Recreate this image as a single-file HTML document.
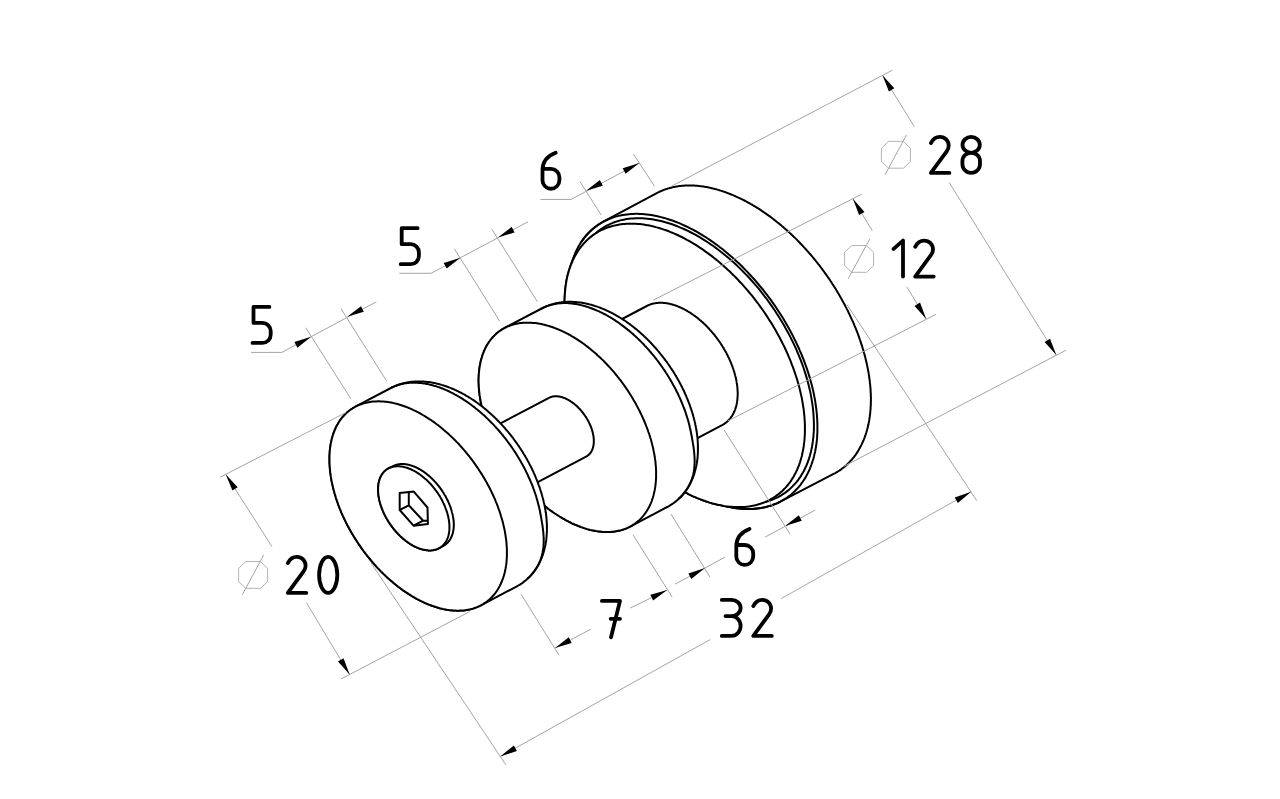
<!DOCTYPE html>
<html><head><meta charset="utf-8"><style>
html,body{margin:0;padding:0;background:#fff;width:1280px;height:799px;overflow:hidden}
svg{display:block}
</style></head><body>
<svg width="1280" height="799" viewBox="0 0 1280 799">
<rect width="1280" height="799" fill="#fff"/>
<path d="M603.8,221.4 L656.8,193.1 657.6,192.7 658.4,192.3 659.2,191.9 660.0,191.5 660.8,191.2 661.6,190.8 662.4,190.5 663.2,190.1 664.0,189.8 664.9,189.5 665.7,189.2 666.6,188.9 667.4,188.7 668.3,188.4 669.1,188.2 670.0,187.9 670.9,187.7 671.8,187.5 672.7,187.3 673.6,187.1 674.5,186.9 675.4,186.7 676.3,186.6 677.2,186.4 678.1,186.3 679.0,186.1 680.0,186.0 680.9,185.9 681.8,185.8 682.8,185.7 683.7,185.7 684.7,185.6 685.6,185.6 686.6,185.5 687.6,185.5 688.6,185.5 689.5,185.5 690.5,185.5 691.5,185.5 692.5,185.5 693.5,185.6 694.5,185.6 695.5,185.7 696.5,185.8 697.5,185.8 698.5,185.9 699.5,186.1 700.5,186.2 701.6,186.3 702.6,186.4 703.6,186.6 704.7,186.8 705.7,186.9 706.7,187.1 707.8,187.3 708.8,187.5 709.9,187.8 710.9,188.0 712.0,188.2 713.0,188.5 714.1,188.7 715.1,189.0 716.2,189.3 717.3,189.6 718.3,189.9 719.4,190.2 720.5,190.6 721.6,190.9 722.6,191.3 723.7,191.6 724.8,192.0 725.9,192.4 726.9,192.8 728.0,193.2 729.1,193.6 730.2,194.0 731.3,194.5 732.4,194.9 733.5,195.4 734.6,195.8 735.6,196.3 736.7,196.8 737.8,197.3 738.9,197.8 740.0,198.3 741.1,198.9 742.2,199.4 743.3,200.0 744.4,200.5 745.5,201.1 746.6,201.7 747.7,202.3 748.8,202.9 749.9,203.5 750.9,204.1 752.0,204.7 753.1,205.4 754.2,206.0 755.3,206.7 756.4,207.4 757.5,208.0 758.6,208.7 759.7,209.4 760.8,210.1 761.8,210.9 762.9,211.6 764.0,212.3 765.1,213.1 766.2,213.8 767.3,214.6 768.3,215.4 769.4,216.1 770.5,216.9 771.6,217.7 772.6,218.5 773.7,219.4 774.8,220.2 775.8,221.0 776.9,221.9 777.9,222.7 779.0,223.6 780.0,224.4 781.1,225.3 782.1,226.2 783.2,227.1 784.2,228.0 785.3,228.9 786.3,229.8 787.3,230.8 788.4,231.7 789.4,232.6 790.4,233.6 791.4,234.5 792.5,235.5 793.5,236.5 794.5,237.4 795.5,238.4 796.5,239.4 797.5,240.4 798.5,241.4 799.5,242.5 800.4,243.5 801.4,244.5 802.4,245.5 803.4,246.6 804.3,247.6 805.3,248.7 806.3,249.7 807.2,250.8 808.2,251.9 809.1,253.0 810.1,254.0 811.0,255.1 811.9,256.2 812.9,257.3 813.8,258.5 814.7,259.6 815.6,260.7 816.5,261.8 817.4,262.9 818.3,264.1 819.2,265.2 820.1,266.4 820.9,267.5 821.8,268.7 822.7,269.9 823.5,271.0 824.4,272.2 825.2,273.4 826.1,274.6 826.9,275.7 827.7,276.9 828.6,278.1 829.4,279.3 830.2,280.5 831.0,281.7 831.8,282.9 832.6,284.2 833.4,285.4 834.1,286.6 834.9,287.8 835.7,289.1 836.4,290.3 837.2,291.5 837.9,292.8 838.7,294.0 839.4,295.3 840.1,296.5 840.8,297.8 841.5,299.0 842.2,300.3 842.9,301.5 843.6,302.8 844.3,304.0 845.0,305.3 845.6,306.6 846.3,307.9 846.9,309.1 847.6,310.4 848.2,311.7 848.8,313.0 849.4,314.2 850.0,315.5 850.6,316.8 851.2,318.1 851.8,319.4 852.4,320.6 853.0,321.9 853.5,323.2 854.1,324.5 854.6,325.8 855.2,327.1 855.7,328.4 856.2,329.7 856.7,331.0 857.2,332.2 857.7,333.5 858.2,334.8 858.7,336.1 859.1,337.4 859.6,338.7 860.0,340.0 860.5,341.3 860.9,342.6 861.3,343.9 861.7,345.1 862.1,346.4 862.5,347.7 862.9,349.0 863.3,350.3 863.7,351.6 864.0,352.8 864.4,354.1 864.7,355.4 865.1,356.7 865.4,357.9 865.7,359.2 866.0,360.5 866.3,361.8 866.6,363.0 866.9,364.3 867.1,365.5 867.4,366.8 867.7,368.1 867.9,369.3 868.1,370.6 868.4,371.8 868.6,373.1 868.8,374.3 869.0,375.5 869.2,376.8 869.3,378.0 869.5,379.2 869.7,380.5 869.8,381.7 869.9,382.9 870.1,384.1 870.2,385.3 870.3,386.5 870.4,387.7 870.5,388.9 870.6,390.1 870.6,391.3 870.7,392.5 870.8,393.7 870.8,394.9 870.8,396.0 870.9,397.2 870.9,398.4 870.9,399.5 870.9,400.7 870.9,401.8 870.8,403.0 870.8,404.1 870.8,405.2 870.7,406.3 870.6,407.5 870.6,408.6 870.5,409.7 870.4,410.8 870.3,411.9 870.2,413.0 870.1,414.1 869.9,415.1 869.8,416.2 869.7,417.3 869.5,418.3 869.3,419.4 869.2,420.4 869.0,421.5 868.8,422.5 868.6,423.5 868.4,424.6 868.1,425.6 867.9,426.6 867.7,427.6 867.4,428.6 867.1,429.5 866.9,430.5 866.6,431.5 866.3,432.5 866.0,433.4 865.7,434.4 865.4,435.3 865.1,436.2 864.7,437.2 864.4,438.1 864.0,439.0 863.7,439.9 863.3,440.8 862.9,441.6 862.5,442.5 862.1,443.4 861.7,444.2 861.3,445.1 860.9,445.9 860.5,446.8 860.0,447.6 859.6,448.4 859.1,449.2 858.7,450.0 858.2,450.8 857.7,451.6 857.2,452.4 856.7,453.1 856.2,453.9 855.7,454.6 855.2,455.3 854.6,456.1 854.1,456.8 853.5,457.5 853.0,458.2 852.4,458.9 851.8,459.6 851.2,460.2 850.6,460.9 850.0,461.5 849.4,462.2 848.8,462.8 848.2,463.4 847.6,464.0 846.9,464.6 846.3,465.2 845.6,465.8 845.0,466.4 844.3,466.9 843.6,467.5 842.9,468.0 842.2,468.5 841.5,469.1 840.8,469.6 840.1,470.1 839.4,470.6 838.7,471.0 837.9,471.5 837.2,472.0 836.4,472.4 835.7,472.8 834.9,473.3 834.1,473.7 780.8,501.4 780.0,501.8 779.2,502.2 778.5,502.6 777.7,503.0 776.9,503.3 776.0,503.7 775.2,504.0 774.4,504.3 773.6,504.6 772.8,505.0 771.9,505.2 771.1,505.5 770.2,505.8 769.4,506.1 768.5,506.3 767.6,506.5 766.8,506.8 765.9,507.0 765.0,507.2 764.1,507.4 763.2,507.6 762.3,507.7 761.4,507.9 760.5,508.1 759.6,508.2 758.6,508.3 757.7,508.4 756.8,508.5 755.8,508.6 754.9,508.7 753.9,508.8 753.0,508.9 752.0,508.9 751.1,508.9 750.1,509.0 749.1,509.0 748.2,509.0 747.2,509.0 746.2,509.0 745.2,508.9 744.2,508.9 743.2,508.8 742.2,508.8 741.2,508.7 740.2,508.6 739.2,508.5 738.2,508.4 737.2,508.3 736.1,508.2 735.1,508.0 734.1,507.9 733.1,507.7 732.0,507.5 731.0,507.3 729.9,507.1 728.9,506.9 719.9,505.1 718.9,504.9 717.9,504.7 716.9,504.5 715.9,504.2 714.9,504.0 713.8,503.7 712.8,503.4 711.8,503.2 710.8,502.9 709.8,502.6 708.7,502.2 707.7,501.9 706.7,501.6 705.6,501.2 704.6,500.9 703.6,500.5 702.5,500.1 701.5,499.7 700.5,499.3 699.4,498.9 698.4,498.5 697.3,498.1 696.3,497.6 695.3,497.2 694.2,496.7 693.2,496.3 692.1,495.8 691.1,495.3 690.0,494.8 689.0,494.3 687.9,493.8 686.9,493.2 685.8,492.7 684.8,492.1 683.7,491.6 682.7,491.0 681.6,490.4 680.6,489.9 679.5,489.3 678.5,488.7 677.4,488.0 676.4,487.4 675.4,486.8 674.3,486.1 673.3,485.5 672.2,484.8 671.2,484.2 670.1,483.5 669.1,482.8 668.1,482.1 667.0,481.4 666.0,480.7 664.9,479.9 663.9,479.2 662.9,478.5 661.9,477.7 660.8,477.0 659.8,476.2 658.8,475.4 657.8,474.6 656.7,473.8 655.7,473.0 654.7,472.2 653.7,471.4 652.7,470.6 651.7,469.8 650.7,468.9 649.7,468.1 648.6,467.2 647.7,466.4 646.7,465.5 645.7,464.6 644.7,463.7 643.7,462.8 642.7,461.9 641.7,461.0 640.7,460.1 639.8,459.2 638.8,458.2 637.8,457.3 636.9,456.4 635.9,455.4 635.0,454.4 634.0,453.5 633.1,452.5 632.1,451.5 631.2,450.5 630.2,449.6 629.3,448.6 628.4,447.6 627.4,446.5 626.5,445.5 625.6,444.5 624.7,443.5 623.8,442.4 622.9,441.4 622.0,440.4 621.1,439.3 620.2,438.2 619.3,437.2 618.5,436.1 617.6,435.0 616.7,434.0 615.9,432.9 615.0,431.8 614.2,430.7 613.3,429.6 612.5,428.5 611.6,427.4 610.8,426.3 610.0,425.1 609.2,424.0 608.4,422.9 607.5,421.8 606.7,420.6 606.0,419.5 605.2,418.3 604.4,417.2 603.6,416.0 602.8,414.9 602.1,413.7 601.3,412.5 600.6,411.4 599.8,410.2 599.1,409.0 598.3,407.8 597.6,406.7 596.9,405.5 596.2,404.3 595.5,403.1 594.8,401.9 594.1,400.7 593.4,399.5 592.7,398.3 592.1,397.1 591.4,395.9 590.7,394.7 590.1,393.5 589.5,392.3 588.8,391.1 588.2,389.8 587.6,388.6 587.0,387.4 586.4,386.2 585.8,385.0 585.2,383.7 584.6,382.5 584.0,381.3 583.4,380.0 582.9,378.8 582.3,377.6 581.8,376.3 581.3,375.1 580.7,373.9 580.2,372.6 579.7,371.4 579.2,370.2 578.7,368.9 578.2,367.7 577.7,366.5 577.2,365.2 576.8,364.0 576.3,362.8 575.9,361.5 575.4,360.3 575.0,359.0 574.6,357.8 574.2,356.6 573.8,355.3 573.4,354.1 573.0,352.9 572.6,351.6 572.2,350.4 571.9,349.2 571.5,348.0 571.2,346.7 570.8,345.5 570.5,344.3 570.2,343.1 569.9,341.8 569.6,340.6 569.3,339.4 569.0,338.2 568.7,337.0 568.5,335.8 568.2,334.6 567.9,333.4 567.7,332.1 567.5,330.9 567.2,329.7 567.0,328.6 566.8,327.4 566.6,326.2 566.4,325.0 566.3,323.8 566.1,322.6 565.9,321.4 565.8,320.3 565.7,319.1 565.5,317.9 565.4,316.8 565.3,315.6 565.2,314.4 565.1,313.3 565.0,312.1 564.9,311.0 564.8,309.9 564.8,308.7 564.7,307.6 564.7,306.5 564.7,305.3 564.6,304.2 564.6,303.1 564.6,302.0 564.6,300.9 564.6,299.8 564.7,298.7 564.7,297.6 564.7,296.5 564.8,295.5 564.8,294.4 564.9,293.3 565.0,292.3 565.1,291.2 565.2,290.2 565.3,289.1 565.4,288.1 565.5,287.0 565.7,286.0 565.8,285.0 565.9,284.0 566.1,283.0 566.3,282.0 566.4,281.0 566.6,280.0 566.8,279.0 567.0,278.0 567.2,277.0 567.5,276.1 567.7,275.1 567.9,274.2 568.2,273.2 568.5,272.3 568.7,271.4 569.0,270.4 569.3,269.5 569.6,268.6 569.9,267.7 572.7,259.7 573.0,258.8 573.3,257.8 573.7,256.9 574.0,256.0 574.4,255.1 574.7,254.2 575.1,253.4 575.5,252.5 575.9,251.6 576.3,250.8 576.7,249.9 577.1,249.1 577.6,248.2 578.0,247.4 578.5,246.6 578.9,245.8 579.4,245.0 579.9,244.2 580.3,243.4 580.8,242.7 581.3,241.9 581.8,241.2 582.4,240.4 582.9,239.7 583.4,239.0 584.0,238.3 584.5,237.5 585.1,236.9 585.6,236.2 586.2,235.5 586.8,234.8 587.4,234.2 588.0,233.5 588.6,232.9 589.2,232.3 589.8,231.6 590.5,231.0 591.1,230.4 591.7,229.8 592.4,229.3 593.1,228.7 593.7,228.1 594.4,227.6 595.1,227.0 595.8,226.5 596.5,226.0 597.2,225.5 597.9,225.0 598.6,224.5 599.3,224.0 600.1,223.6 600.8,223.1 601.6,222.7 602.3,222.2 603.1,221.8 Z" fill="#fff" stroke="#000" stroke-width="2.0" stroke-linejoin="round"/>
<path d="M727.6,506.7 L729.9,507.1 732.3,507.6 734.6,507.9 736.9,508.3 739.3,508.5 741.5,508.7 743.8,508.9 746.1,509.0 748.3,509.0 750.5,509.0 752.7,508.9 754.8,508.7 757.0,508.5 759.1,508.3 761.2,507.9 763.2,507.6 765.2,507.1 767.2,506.6 769.2,506.1 771.2,505.5 773.1,504.8 774.9,504.1 776.8,503.4 778.6,502.5 780.4,501.6 782.1,500.7 783.8,499.7 785.5,498.7 787.1,497.6 788.7,496.4 790.3,495.2 791.8,493.9 793.3,492.6 794.7,491.3 796.1,489.8 797.5,488.4 798.8,486.9 800.1,485.3 801.3,483.7 802.5,482.0 803.7,480.3 804.8,478.6 805.9,476.8 806.9,474.9 807.9,473.0 808.8,471.1 809.7,469.1 810.5,467.1 811.3,465.0 812.0,462.9 812.7,460.8 813.4,458.6 814.0,456.4 814.5,454.1 815.1,451.9 815.5,449.5 815.9,447.2 816.3,444.8 816.6,442.3 816.9,439.9 817.1,437.4 817.2,434.9 817.4,432.3 817.4,429.7 817.4,427.1 817.4,424.5 817.3,421.9 817.2,419.2 817.0,416.5 816.8,413.8 816.5,411.0 816.2,408.2 815.8,405.5 815.4,402.7 815.0,399.9 814.4,397.0 813.9,394.2 813.3,391.3 812.6,388.5 811.9,385.6 811.1,382.7 810.3,379.8 809.5,376.9 808.6,374.0 807.7,371.1 806.7,368.1 805.6,365.2 804.6,362.3 803.5,359.4 802.3,356.5 801.1,353.5 799.8,350.6 798.6,347.7 797.2,344.8 795.9,341.9 794.4,339.0 793.0,336.1 791.5,333.2 790.0,330.4 788.4,327.5 786.8,324.7 785.2,321.9 783.5,319.1 781.8,316.3 780.0,313.5 778.2,310.7 776.4,308.0 774.6,305.3 772.7,302.6 770.8,299.9 768.8,297.3 766.8,294.7 764.8,292.1 762.8,289.5 760.7,287.0 758.6,284.5 756.5,282.0 754.4,279.5 752.2,277.1 750.0,274.7 747.8,272.4 745.6,270.1 743.3,267.8 741.1,265.5 738.8,263.3 736.5,261.2 734.1,259.1 731.8,257.0 729.4,254.9 727.1,252.9 724.7,251.0 722.3,249.0 719.9,247.2 717.4,245.3 715.0,243.6 712.6,241.8 710.1,240.1 707.7,238.5 705.2,236.9 702.7,235.4 700.3,233.9 697.8,232.4 695.3,231.0 692.8,229.7 690.3,228.4 687.9,227.1 685.4,226.0 682.9,224.8 680.4,223.7 678.0,222.7 675.5,221.7 673.1,220.8 670.6,220.0 668.2,219.2 665.8,218.4 663.3,217.7 660.9,217.1 658.5,216.5 656.2,216.0 653.8,215.5 651.5,215.1 649.1,214.7 646.8,214.4 644.5,214.2 642.2,214.0 640.0,213.9 637.7,213.8 635.5,213.8 633.3,213.9 631.1,214.0 629.0,214.2 626.9,214.4 624.8,214.7 622.7,215.0 620.6,215.4 618.6,215.9 616.6,216.4 614.7,216.9 612.7,217.6 610.9,218.3 609.0,219.0 607.2,219.8 605.4,220.6 603.6,221.5 601.9,222.5 600.2,223.5 598.5,224.6 596.9,225.7 595.3,226.9 593.8,228.1 592.2,229.4 590.8,230.7 589.4,232.1 588.0,233.5 586.6,235.0 585.3,236.6 584.0,238.1 582.8,239.8 581.7,241.4" fill="none" stroke="#000" stroke-width="2.0" stroke-linecap="round"/>
<path d="M726.8,501.9 L729.3,502.4 731.7,502.9 734.2,503.3 736.6,503.6 739.0,503.8 741.4,504.0 743.7,504.1 746.1,504.2 748.4,504.2 750.6,504.1 752.9,504.0 755.1,503.8 757.3,503.5 759.5,503.2 761.6,502.8 763.7,502.3 765.8,501.8 767.9,501.2 769.9,500.5 771.9,499.8 773.8,499.0 775.7,498.2 777.6,497.3 779.4,496.3 781.2,495.3 782.9,494.2 784.6,493.1 786.3,491.9 787.9,490.6 789.5,489.3 791.0,487.9 792.5,486.4 793.9,484.9 795.3,483.4 796.7,481.8 798.0,480.1 799.2,478.4 800.5,476.6 801.6,474.8 802.7,472.9 803.8,471.0 804.8,469.0 805.7,467.0 806.7,464.9 807.5,462.8 808.3,460.6 809.1,458.4 809.8,456.1 810.4,453.8 811.0,451.5 811.5,449.1 812.0,446.7 812.4,444.2 812.8,441.7 813.1,439.2 813.4,436.6 813.6,434.0 813.8,431.4 813.9,428.7 813.9,426.0 813.9,423.3 813.8,420.5 813.7,417.7 813.5,414.9 813.3,412.1 813.0,409.2 812.7,406.3 812.3,403.4 811.8,400.5 811.3,397.6 810.8,394.6 810.2,391.6 809.5,388.7 808.8,385.7 808.0,382.7 807.2,379.6 806.3,376.6 805.4,373.6 804.4,370.5 803.4,367.5 802.3,364.4 801.2,361.4 800.0,358.4 798.8,355.3 797.5,352.3 796.2,349.2 794.8,346.2 793.4,343.2 791.9,340.1 790.4,337.1 788.9,334.1 787.3,331.2 785.6,328.2 784.0,325.2 782.2,322.3 780.5,319.4 778.7,316.5 776.8,313.6 775.0,310.7 773.0,307.9 771.1,305.1 769.1,302.3 767.1,299.5 765.0,296.8 762.9,294.1 760.8,291.4 758.7,288.7 756.5,286.1 754.3,283.6 752.0,281.0 749.8,278.5 747.5,276.0 745.1,273.6 742.8,271.2 740.4,268.9 738.1,266.6 735.7,264.3 733.2,262.1 730.8,259.9 728.3,257.8 725.8,255.7 723.4,253.7 720.8,251.7 718.3,249.8 715.8,247.9 713.3,246.0 710.7,244.3 708.1,242.5 705.6,240.9 703.0,239.3 700.4,237.7 697.9,236.2 695.3,234.7 692.7,233.3 690.1,232.0 687.5,230.7 684.9,229.5 682.4,228.4 679.8,227.3 677.2,226.2 674.7,225.3 672.1,224.3 669.6,223.5 667.0,222.7 664.5,222.0 662.0,221.3 659.5,220.7 657.0,220.2 654.6,219.7 652.1,219.3 649.7,219.0 647.3,218.7 644.9,218.5 642.6,218.3 640.2,218.3 637.9,218.2 635.6,218.3 633.3,218.4 631.1,218.6 628.9,218.8 626.7,219.1 624.6,219.5 622.4,219.9 620.3,220.4 618.3,221.0 616.3,221.6 614.3,222.3 612.3,223.1 610.4,223.9 608.5,224.8 606.7,225.7 604.9,226.7 603.1,227.8 601.4,228.9 599.7,230.1 598.1,231.4 596.5,232.7 594.9,234.0 593.4,235.4 592.0,236.9 590.6,238.5 589.2,240.0 587.9,241.7 586.6,243.4 585.4,245.1 584.2,246.9 583.1,248.8 582.0,250.7 581.0,252.7 580.0,254.7 579.1,256.7 578.2,258.8 577.4,261.0 576.6,263.2 575.9,265.4 575.2,267.7 574.6,270.0 574.0,272.4 573.5,274.8" fill="none" stroke="#000" stroke-width="2.0" stroke-linecap="round"/>
<path d="M769.7,499.8 L771.2,499.0 772.7,498.2 774.1,497.3 775.5,496.4 776.8,495.4 778.2,494.4 779.5,493.4 780.7,492.3 782.0,491.2 783.2,490.0 784.4,488.8 785.6,487.6 786.7,486.3 787.8,485.0 788.8,483.7 789.9,482.3 790.9,480.9 791.8,479.4 792.8,477.9 793.7,476.4 794.5,474.8 795.4,473.3 796.2,471.6 797.0,470.0 797.7,468.3 798.4,466.6 799.1,464.8 799.7,463.1 800.3,461.2 800.8,459.4 801.4,457.5 801.9,455.7 802.3,453.7 802.7,451.8 803.1,449.8 803.5,447.8 803.8,445.8 804.0,443.7 804.3,441.7 804.5,439.6 804.6,437.5 804.8,435.3 804.9,433.2 804.9,431.0 804.9,428.8 804.9,426.5 804.9,424.3 804.8,422.0 804.6,419.8 804.5,417.5 804.3,415.2 804.0,412.8 803.8,410.5 803.5,408.2 803.1,405.8 802.7,403.4 802.3,401.0 801.9,398.6 801.4,396.2 800.8,393.8 800.3,391.4 799.7,388.9 799.1,386.5 798.4,384.0 797.7,381.6 797.0,379.1 796.2,376.7 795.4,374.2 794.5,371.7 793.7,369.3 792.8,366.8 791.8,364.3 790.9,361.8 789.9,359.4 788.8,356.9 787.8,354.4 786.7,352.0 785.6,349.5 784.4,347.0 783.2,344.6 782.0,342.2 780.7,339.7 779.5,337.3 778.2,334.9 776.8,332.5 775.5,330.1 774.1,327.7 772.7,325.3 771.2,322.9 769.7,320.6 768.2,318.2 766.7,315.9 765.2,313.6 763.6,311.3 762.0,309.0 760.4,306.8 758.8,304.5 757.1,302.3 755.4,300.1 753.7,297.9 752.0,295.7 750.2,293.6 748.5,291.5 746.7,289.4 744.9,287.3 743.0,285.2 741.2,283.2 739.3,281.2 737.5,279.2 735.6,277.3 733.7,275.4 731.7,273.5 729.8,271.6 727.8,269.8 725.9,268.0 723.9,266.2 721.9,264.4 719.9,262.7 717.9,261.0 715.9,259.4 713.8,257.7 711.8,256.1 709.8,254.6 707.7,253.1 705.6,251.6 703.6,250.1 701.5,248.7 699.4,247.3 697.3,245.9 695.3,244.6 693.2,243.4 691.1,242.1 689.0,240.9 686.9,239.8 684.8,238.6 682.7,237.5 680.6,236.5 678.5,235.5 676.4,234.5 674.3,233.6 672.2,232.7 670.1,231.9 668.1,231.0 666.0,230.3 663.9,229.6 661.9,228.9 659.8,228.2 657.8,227.6 655.7,227.1 653.7,226.5 651.7,226.1 649.7,225.6 647.7,225.2 645.7,224.9 643.7,224.6 641.7,224.3 639.8,224.1 637.8,223.9 635.9,223.8 634.0,223.7 632.1,223.7 630.2,223.7 628.4,223.7 626.5,223.8 624.7,223.9 622.9,224.1 621.1,224.3 619.3,224.6 617.6,224.9 615.9,225.2 614.2,225.6 612.5,226.0 610.8,226.5 609.2,227.0 607.5,227.5 606.0,228.1 604.4,228.8 602.8,229.5 601.3,230.2 599.8,230.9 598.3,231.7 596.9,232.6 595.5,233.5 594.1,234.4 592.7,235.4 591.4,236.4 590.1,237.4 588.8,238.5 587.6,239.6 586.4,240.8 585.2,242.0 584.0,243.2 582.9,244.5 581.8,245.8 580.7,247.1 579.7,248.5 578.7,249.9 577.7,251.4 576.8,252.9 575.9,254.4 575.0,255.9 574.2,257.5 573.4,259.1 572.6,260.8 571.9,262.5 571.2,264.2 570.5,265.9 569.9,267.7 569.3,269.5 568.7,271.4 568.2,273.2 567.7,275.1 567.2,277.0 566.8,279.0 566.4,281.0 566.1,283.0 565.8,285.0 565.5,287.0 565.3,289.1 565.1,291.2 564.9,293.3 564.8,295.5 564.7,297.6 564.6,299.8 564.6,302.0 564.6,304.2 564.7,306.5 564.8,308.7 564.9,311.0 565.1,313.3 565.3,315.6 565.5,317.9 565.8,320.3 566.1,322.6 566.4,325.0 566.8,327.4 567.2,329.7 567.7,332.1 568.2,334.6 568.7,337.0 569.3,339.4 569.9,341.8 570.5,344.3 571.2,346.7 571.9,349.2 572.6,351.6 573.4,354.1 574.2,356.6 575.0,359.0 575.9,361.5 576.8,364.0 577.7,366.5 578.7,368.9 579.7,371.4 580.7,373.9 581.8,376.3 582.9,378.8 584.0,381.3 585.2,383.7 586.4,386.2 587.6,388.6 588.8,391.1 590.1,393.5 591.4,395.9 592.7,398.3 594.1,400.7 595.5,403.1 596.9,405.5 598.3,407.8 599.8,410.2 601.3,412.5 602.8,414.9 604.4,417.2 606.0,419.5 607.5,421.8 609.2,424.0 610.8,426.3 612.5,428.5 614.2,430.7 615.9,432.9 617.6,435.0 619.3,437.2 621.1,439.3 622.9,441.4 624.7,443.5 626.5,445.5 628.4,447.6 630.2,449.6 632.1,451.5 634.0,453.5 635.9,455.4 637.8,457.3 639.8,459.2 641.7,461.0 643.7,462.8 645.7,464.6 647.7,466.4 649.7,468.1 651.7,469.8 653.7,471.4 655.7,473.0 657.8,474.6 659.8,476.2 661.9,477.7 663.9,479.2 666.0,480.7 668.1,482.1 670.1,483.5 672.2,484.8 674.3,486.1 676.4,487.4 678.5,488.7 680.6,489.9 682.7,491.0 684.8,492.1 686.9,493.2 689.0,494.3 691.1,495.3 693.2,496.3 695.3,497.2 697.3,498.1 699.4,498.9 701.5,499.7 703.6,500.5 705.6,501.2 707.7,501.9 709.8,502.6 711.8,503.2 713.8,503.7 715.9,504.2 717.9,504.7 719.9,505.1 721.9,505.5 723.9,505.9 725.9,506.2 727.8,506.4 729.8,506.7 731.7,506.8 733.7,507.0 735.6,507.1 737.5,507.1 739.3,507.1 741.2,507.1 743.0,507.0 744.9,506.9 746.7,506.7 748.5,506.5 750.2,506.2 752.0,505.9 753.7,505.6 755.4,505.2 757.1,504.8 758.8,504.3 760.4,503.8 762.0,503.2 763.6,502.6 765.2,502.0 766.7,501.3 768.2,500.6 Z" fill="#fff" stroke="#000" stroke-width="2.0"/>
<path d="M575.8,343.4 L646.8,306.0 647.1,305.8 647.4,305.7 647.8,305.5 648.1,305.3 648.5,305.2 648.8,305.0 649.1,304.9 649.5,304.8 649.8,304.6 650.2,304.5 650.6,304.4 650.9,304.2 651.3,304.1 651.6,304.0 652.0,303.9 652.4,303.8 652.8,303.7 653.1,303.6 653.5,303.5 653.9,303.5 654.3,303.4 654.7,303.3 655.0,303.2 655.4,303.2 655.8,303.1 656.2,303.1 656.6,303.0 657.0,303.0 657.4,302.9 657.8,302.9 658.2,302.9 658.6,302.8 659.0,302.8 659.4,302.8 659.8,302.8 660.3,302.8 660.7,302.8 661.1,302.8 661.5,302.8 661.9,302.8 662.3,302.8 662.8,302.8 663.2,302.9 663.6,302.9 664.0,302.9 664.5,303.0 664.9,303.0 665.3,303.1 665.8,303.1 666.2,303.2 666.7,303.3 667.1,303.3 667.5,303.4 668.0,303.5 668.4,303.6 668.9,303.6 669.3,303.7 669.7,303.8 670.2,303.9 670.6,304.0 671.1,304.2 671.5,304.3 672.0,304.4 672.4,304.5 672.9,304.7 673.4,304.8 673.8,304.9 674.3,305.1 674.7,305.2 675.2,305.4 675.6,305.5 676.1,305.7 676.6,305.9 677.0,306.0 677.5,306.2 677.9,306.4 678.4,306.6 678.9,306.8 679.3,307.0 679.8,307.2 680.2,307.4 680.7,307.6 681.2,307.8 681.6,308.0 682.1,308.2 682.6,308.5 683.0,308.7 683.5,308.9 684.0,309.2 684.4,309.4 684.9,309.7 685.4,309.9 685.8,310.2 686.3,310.4 686.7,310.7 687.2,311.0 687.7,311.2 688.1,311.5 688.6,311.8 689.1,312.1 689.5,312.4 690.0,312.6 690.5,312.9 690.9,313.2 691.4,313.6 691.8,313.9 692.3,314.2 692.8,314.5 693.2,314.8 693.7,315.1 694.1,315.5 694.6,315.8 695.0,316.1 695.5,316.5 696.0,316.8 696.4,317.2 696.9,317.5 697.3,317.9 697.8,318.2 698.2,318.6 698.7,319.0 699.1,319.3 699.5,319.7 700.0,320.1 700.4,320.4 700.9,320.8 701.3,321.2 701.8,321.6 702.2,322.0 702.6,322.4 703.1,322.8 703.5,323.2 703.9,323.6 704.4,324.0 704.8,324.4 705.2,324.8 705.7,325.3 706.1,325.7 706.5,326.1 706.9,326.5 707.3,327.0 707.8,327.4 708.2,327.8 708.6,328.3 709.0,328.7 709.4,329.2 709.8,329.6 710.2,330.1 710.6,330.5 711.0,331.0 711.4,331.4 711.8,331.9 712.2,332.4 712.6,332.8 713.0,333.3 713.4,333.8 713.8,334.2 714.2,334.7 714.6,335.2 715.0,335.7 715.3,336.2 715.7,336.6 716.1,337.1 716.5,337.6 716.8,338.1 717.2,338.6 717.6,339.1 717.9,339.6 718.3,340.1 718.7,340.6 719.0,341.1 719.4,341.6 719.7,342.1 720.1,342.6 720.4,343.1 720.7,343.6 721.1,344.2 721.4,344.7 721.7,345.2 722.1,345.7 722.4,346.2 722.7,346.8 723.0,347.3 723.4,347.8 723.7,348.3 724.0,348.9 724.3,349.4 724.6,349.9 724.9,350.5 725.2,351.0 725.5,351.5 725.8,352.1 726.1,352.6 726.4,353.1 726.7,353.7 726.9,354.2 727.2,354.7 727.5,355.3 727.8,355.8 728.0,356.4 728.3,356.9 728.6,357.4 728.8,358.0 729.1,358.5 729.3,359.1 729.6,359.6 729.8,360.2 730.1,360.7 730.3,361.3 730.5,361.8 730.8,362.4 731.0,362.9 731.2,363.5 731.4,364.0 731.7,364.5 731.9,365.1 732.1,365.6 732.3,366.2 732.5,366.7 732.7,367.3 732.9,367.8 733.1,368.4 733.3,368.9 733.4,369.5 733.6,370.0 733.8,370.6 734.0,371.1 734.1,371.7 734.3,372.2 734.5,372.8 734.6,373.3 734.8,373.8 734.9,374.4 735.1,374.9 735.2,375.5 735.3,376.0 735.5,376.6 735.6,377.1 735.7,377.6 735.9,378.2 736.0,378.7 736.1,379.2 736.2,379.8 736.3,380.3 736.4,380.8 736.5,381.4 736.6,381.9 736.7,382.4 736.8,383.0 736.9,383.5 736.9,384.0 737.0,384.5 737.1,385.0 737.2,385.6 737.2,386.1 737.3,386.6 737.3,387.1 737.4,387.6 737.4,388.1 737.5,388.7 737.5,389.2 737.5,389.7 737.6,390.2 737.6,390.7 737.6,391.2 737.6,391.7 737.7,392.2 737.7,392.7 737.7,393.2 737.7,393.7 737.7,394.1 737.7,394.6 737.7,395.1 737.6,395.6 737.6,396.1 737.6,396.6 737.6,397.0 737.5,397.5 737.5,398.0 737.5,398.4 737.4,398.9 737.4,399.4 737.3,399.8 737.3,400.3 737.2,400.8 737.2,401.2 737.1,401.7 737.0,402.1 736.9,402.5 736.9,403.0 736.8,403.4 736.7,403.9 736.6,404.3 736.5,404.7 736.4,405.2 736.3,405.6 736.2,406.0 736.1,406.4 736.0,406.8 735.9,407.2 735.7,407.6 735.6,408.1 735.5,408.5 735.3,408.9 735.2,409.3 735.1,409.6 734.9,410.0 734.8,410.4 734.6,410.8 734.5,411.2 734.3,411.6 734.1,411.9 734.0,412.3 733.8,412.7 733.6,413.0 733.4,413.4 733.3,413.7 733.1,414.1 732.9,414.4 732.7,414.8 732.5,415.1 732.3,415.4 732.1,415.8 731.9,416.1 731.7,416.4 731.4,416.7 731.2,417.1 731.0,417.4 730.8,417.7 730.5,418.0 730.3,418.3 730.1,418.6 729.8,418.9 729.6,419.2 729.3,419.4 729.1,419.7 728.8,420.0 728.6,420.3 728.3,420.5 728.0,420.8 727.8,421.1 727.5,421.3 727.2,421.6 726.9,421.8 726.7,422.1 726.4,422.3 726.1,422.5 725.8,422.7 725.5,423.0 725.2,423.2 724.9,423.4 724.6,423.6 724.3,423.8 724.0,424.0 723.7,424.2 723.4,424.4 723.0,424.6 722.7,424.8 722.4,425.0 722.1,425.2 651.1,462.6 650.8,462.8 650.4,462.9 650.1,463.1 649.7,463.3 649.4,463.4 649.1,463.6 648.7,463.7 648.4,463.8 648.0,464.0 647.7,464.1 647.3,464.2 646.9,464.3 646.6,464.5 646.2,464.6 645.8,464.7 645.5,464.8 645.1,464.9 644.7,465.0 644.4,465.1 644.0,465.1 643.6,465.2 643.2,465.3 642.8,465.4 642.4,465.4 642.0,465.5 641.6,465.5 641.3,465.6 640.9,465.6 640.5,465.7 640.1,465.7 639.7,465.7 639.2,465.8 638.8,465.8 638.4,465.8 638.0,465.8 637.6,465.8 637.2,465.8 636.8,465.8 636.4,465.8 635.9,465.8 635.5,465.8 635.1,465.8 634.7,465.7 634.2,465.7 633.8,465.7 633.4,465.6 632.9,465.6 632.5,465.5 632.1,465.5 631.6,465.4 631.2,465.3 630.8,465.3 630.3,465.2 629.9,465.1 629.4,465.0 629.0,464.9 628.6,464.9 628.1,464.8 627.7,464.7 627.2,464.5 626.8,464.4 626.3,464.3 625.9,464.2 625.4,464.1 625.0,463.9 624.5,463.8 624.0,463.7 623.6,463.5 623.1,463.4 622.7,463.2 622.2,463.1 621.8,462.9 621.3,462.7 620.8,462.6 620.4,462.4 619.9,462.2 619.5,462.0 619.0,461.8 618.5,461.6 618.1,461.4 617.6,461.2 617.1,461.0 616.7,460.8 616.2,460.6 615.8,460.4 615.3,460.1 614.8,459.9 614.4,459.7 613.9,459.4 613.4,459.2 613.0,458.9 612.5,458.7 612.0,458.4 611.6,458.2 611.1,457.9 610.6,457.6 610.2,457.4 609.7,457.1 609.3,456.8 608.8,456.5 608.3,456.2 607.9,455.9 607.4,455.7 606.9,455.4 606.5,455.0 606.0,454.7 605.6,454.4 605.1,454.1 604.6,453.8 604.2,453.5 603.7,453.1 603.3,452.8 602.8,452.5 602.4,452.1 601.9,451.8 601.5,451.4 601.0,451.1 600.6,450.7 600.1,450.4 599.7,450.0 599.2,449.6 598.8,449.3 598.3,448.9 597.9,448.5 597.4,448.1 597.0,447.8 596.5,447.4 596.1,447.0 595.7,446.6 595.2,446.2 594.8,445.8 594.4,445.4 593.9,445.0 593.5,444.6 593.1,444.2 592.6,443.8 592.2,443.3 591.8,442.9 591.4,442.5 590.9,442.1 590.5,441.6 590.1,441.2 589.7,440.8 589.3,440.3 588.8,439.9 588.4,439.4 588.0,439.0 587.6,438.5 587.2,438.1 586.8,437.6 586.4,437.2 586.0,436.7 585.6,436.2 585.2,435.8 584.8,435.3 584.4,434.8 584.0,434.4 583.7,433.9 583.3,433.4 582.9,432.9 582.5,432.4 582.1,432.0 581.8,431.5 581.4,431.0 581.0,430.5 580.7,430.0 580.3,429.5 579.9,429.0 579.6,428.5 579.2,428.0 578.9,427.5 578.5,427.0 578.2,426.5 577.8,426.0 577.5,425.5 577.1,424.9 576.8,424.4 576.4,423.9 576.1,423.4 575.8,422.9 575.5,422.4 575.1,421.8 574.8,421.3 574.5,420.8 574.2,420.3 573.9,419.7 573.6,419.2 573.2,418.7 572.9,418.1 572.6,417.6 572.3,417.1 572.1,416.5 571.8,416.0 571.5,415.5 571.2,414.9 570.9,414.4 570.6,413.9 570.4,413.3 570.1,412.8 569.8,412.2 569.6,411.7 569.3,411.1 569.0,410.6 568.8,410.1 568.5,409.5 568.3,409.0 568.0,408.4 567.8,407.9 567.6,407.3 567.3,406.8 567.1,406.2 566.9,405.7 566.6,405.1 566.4,404.6 566.2,404.0 566.0,403.5 565.8,403.0 565.6,402.4 565.4,401.9 565.2,401.3 565.0,400.8 564.8,400.2 564.6,399.7 564.4,399.1 564.2,398.6 564.1,398.0 563.9,397.5 563.7,396.9 563.6,396.4 563.4,395.8 563.2,395.3 563.1,394.8 562.9,394.2 562.8,393.7 562.7,393.1 562.5,392.6 562.4,392.0 562.2,391.5 562.1,391.0 562.0,390.4 561.9,389.9 561.8,389.4 561.7,388.8 561.6,388.3 561.4,387.8 561.4,387.2 561.3,386.7 561.2,386.2 561.1,385.6 561.0,385.1 560.9,384.6 560.8,384.1 560.8,383.5 560.7,383.0 560.6,382.5 560.6,382.0 560.5,381.5 560.5,381.0 560.4,380.4 560.4,379.9 560.4,379.4 560.3,378.9 560.3,378.4 560.3,377.9 560.2,377.4 560.2,376.9 560.2,376.4 560.2,375.9 560.2,375.4 560.2,374.9 560.2,374.4 560.2,374.0 560.2,373.5 560.2,373.0 560.2,372.5 560.3,372.0 560.3,371.6 560.3,371.1 560.4,370.6 560.4,370.1 560.4,369.7 560.5,369.2 560.5,368.8 560.6,368.3 560.6,367.8 560.7,367.4 560.8,366.9 560.8,366.5 560.9,366.1 561.0,365.6 561.1,365.2 561.2,364.7 561.3,364.3 561.4,363.9 561.4,363.4 561.6,363.0 561.7,362.6 561.8,362.2 561.9,361.8 562.0,361.4 562.1,360.9 562.2,360.5 562.4,360.1 562.5,359.7 562.7,359.3 562.8,359.0 562.9,358.6 563.1,358.2 563.2,357.8 563.4,357.4 563.6,357.0 563.7,356.7 563.9,356.3 564.1,355.9 564.2,355.6 564.4,355.2 564.6,354.9 564.8,354.5 565.0,354.2 565.2,353.8 565.4,353.5 565.6,353.2 565.8,352.8 566.0,352.5 566.2,352.2 566.4,351.9 566.6,351.5 566.9,351.2 567.1,350.9 567.3,350.6 567.6,350.3 567.8,350.0 568.0,349.7 568.3,349.4 568.5,349.2 568.8,348.9 569.0,348.6 569.3,348.3 569.6,348.1 569.8,347.8 570.1,347.5 570.4,347.3 570.6,347.0 570.9,346.8 571.2,346.5 571.5,346.3 571.8,346.1 572.1,345.8 572.3,345.6 572.6,345.4 572.9,345.2 573.2,345.0 573.6,344.8 573.9,344.6 574.2,344.4 574.5,344.2 574.8,344.0 575.1,343.8 575.5,343.6 Z" fill="#fff" stroke="#000" stroke-width="2.0" stroke-linejoin="round"/>
<path d="M667.2,507.0 L630.1,526.6 629.6,526.9 629.0,527.2 628.5,527.4 627.9,527.7 627.3,528.0 626.8,528.2 626.2,528.4 625.6,528.7 625.0,528.9 624.4,529.1 623.8,529.3 623.2,529.5 622.6,529.7 622.0,529.9 621.4,530.1 620.8,530.3 620.2,530.4 619.5,530.6 618.9,530.7 618.3,530.8 617.6,531.0 617.0,531.1 616.4,531.2 615.7,531.3 615.1,531.4 614.4,531.5 613.7,531.6 613.1,531.7 612.4,531.7 611.7,531.8 611.1,531.8 610.4,531.9 609.7,531.9 609.0,531.9 608.4,532.0 607.7,532.0 607.0,532.0 606.3,532.0 605.6,532.0 604.9,531.9 604.2,531.9 603.5,531.9 602.8,531.8 602.0,531.8 601.3,531.7 600.6,531.6 599.9,531.6 599.2,531.5 598.5,531.4 597.7,531.3 597.0,531.2 596.3,531.1 595.5,530.9 594.8,530.8 594.1,530.7 593.3,530.5 592.6,530.4 591.8,530.2 591.1,530.0 590.3,529.9 589.6,529.7 588.8,529.5 588.1,529.3 587.3,529.1 586.6,528.8 585.8,528.6 585.1,528.4 584.3,528.1 583.5,527.9 582.8,527.6 582.0,527.4 581.3,527.1 580.5,526.8 579.7,526.5 579.0,526.2 578.2,525.9 577.4,525.6 576.7,525.3 575.9,525.0 575.1,524.7 574.3,524.3 573.6,524.0 572.8,523.6 572.0,523.3 571.2,522.9 570.5,522.5 569.7,522.1 568.9,521.7 568.1,521.3 567.4,520.9 566.6,520.5 565.8,520.1 565.1,519.7 564.3,519.2 563.5,518.8 562.7,518.4 562.0,517.9 561.2,517.4 560.4,517.0 559.6,516.5 558.9,516.0 558.1,515.5 557.3,515.0 556.6,514.5 555.8,514.0 555.0,513.5 554.3,513.0 553.5,512.5 552.7,511.9 552.0,511.4 551.2,510.8 550.4,510.3 549.7,509.7 548.9,509.2 548.2,508.6 547.4,508.0 546.7,507.4 545.9,506.8 545.2,506.2 544.4,505.6 543.7,505.0 542.9,504.4 542.2,503.8 541.4,503.2 540.7,502.5 540.0,501.9 539.2,501.2 538.5,500.6 537.8,499.9 537.0,499.3 536.3,498.6 535.6,497.9 534.9,497.3 534.1,496.6 533.4,495.9 532.7,495.2 532.0,494.5 531.3,493.8 530.6,493.1 529.9,492.4 529.2,491.7 528.5,490.9 527.8,490.2 527.1,489.5 526.4,488.7 525.7,488.0 525.0,487.3 524.4,486.5 523.7,485.7 523.0,485.0 522.3,484.2 521.7,483.5 521.0,482.7 520.3,481.9 519.7,481.1 519.0,480.3 518.4,479.5 517.8,478.8 517.1,478.0 516.5,477.2 515.8,476.3 515.2,475.5 514.6,474.7 514.0,473.9 513.4,473.1 512.7,472.3 512.1,471.4 511.5,470.6 510.9,469.8 510.3,468.9 509.7,468.1 509.2,467.3 508.6,466.4 508.0,465.6 507.4,464.7 506.9,463.9 506.3,463.0 505.7,462.1 505.2,461.3 504.6,460.4 504.1,459.5 503.5,458.7 503.0,457.8 502.5,456.9 501.9,456.1 501.4,455.2 500.9,454.3 500.4,453.4 499.9,452.5 499.4,451.6 498.9,450.7 498.4,449.9 497.9,449.0 497.4,448.1 497.0,447.2 496.5,446.3 496.0,445.4 495.6,444.5 495.1,443.6 494.7,442.7 494.2,441.8 493.8,440.9 493.4,440.0 492.9,439.0 492.5,438.1 492.1,437.2 491.7,436.3 491.3,435.4 490.9,434.5 490.5,433.6 490.1,432.7 489.8,431.8 489.4,430.8 489.0,429.9 488.7,429.0 488.3,428.1 488.0,427.2 487.6,426.3 487.3,425.4 486.9,424.5 486.6,423.5 486.3,422.6 486.0,421.7 485.7,420.8 485.4,419.9 485.1,419.0 484.8,418.1 484.5,417.2 484.3,416.3 484.0,415.3 483.7,414.4 483.5,413.5 483.2,412.6 483.0,411.7 482.7,410.8 482.5,409.9 482.3,409.0 482.1,408.1 481.9,407.2 481.7,406.3 481.5,405.4 481.3,404.5 481.1,403.7 480.9,402.8 480.7,401.9 480.6,401.0 480.4,400.1 480.3,399.2 480.1,398.4 480.0,397.5 479.9,396.6 479.7,395.7 479.6,394.9 479.5,394.0 479.4,393.1 479.3,392.3 479.2,391.4 479.1,390.5 479.0,389.7 479.0,388.8 478.9,388.0 478.8,387.2 478.8,386.3 478.8,385.5 478.7,384.6 478.7,383.8 478.7,383.0 478.6,382.1 478.6,381.3 478.6,380.5 478.6,379.7 478.6,378.9 478.7,378.1 478.7,377.3 478.7,376.5 478.8,375.7 478.8,374.9 478.8,374.1 478.9,373.3 479.0,372.5 479.0,371.7 479.1,371.0 479.2,370.2 479.3,369.4 479.4,368.7 479.5,367.9 479.6,367.2 479.7,366.4 479.9,365.7 480.0,365.0 480.1,364.2 480.3,363.5 480.4,362.8 480.6,362.1 480.7,361.4 480.9,360.6 481.1,359.9 481.3,359.2 481.5,358.6 481.7,357.9 481.9,357.2 482.1,356.5 482.3,355.8 482.5,355.2 482.7,354.5 483.0,353.9 483.2,353.2 483.5,352.6 483.7,351.9 484.0,351.3 484.3,350.7 484.5,350.1 484.8,349.5 485.1,348.8 485.4,348.2 485.7,347.6 486.0,347.1 486.3,346.5 486.6,345.9 486.9,345.3 487.3,344.8 487.6,344.2 488.0,343.7 488.3,343.1 488.7,342.6 489.0,342.0 489.4,341.5 489.8,341.0 490.1,340.5 490.5,340.0 490.9,339.5 491.3,339.0 491.7,338.5 492.1,338.0 492.5,337.5 492.9,337.1 493.4,336.6 493.8,336.2 494.2,335.7 494.7,335.3 495.1,334.8 495.6,334.4 496.0,334.0 496.5,333.6 497.0,333.2 497.4,332.8 497.9,332.4 498.4,332.0 498.9,331.6 499.4,331.3 499.9,330.9 500.4,330.6 500.9,330.2 501.4,329.9 501.9,329.6 502.5,329.2 503.0,328.9 503.5,328.6 504.1,328.3 504.6,328.0 541.7,308.5 542.3,308.2 542.8,307.9 543.4,307.6 543.9,307.4 544.5,307.1 545.1,306.9 546.8,306.1 547.4,305.9 548.0,305.7 548.6,305.4 549.1,305.2 549.7,305.0 550.3,304.8 550.9,304.6 551.5,304.4 552.2,304.3 552.8,304.1 553.4,303.9 554.0,303.8 555.8,303.3 556.5,303.2 557.1,303.0 557.7,302.9 558.4,302.8 559.0,302.7 559.6,302.6 560.3,302.5 560.9,302.4 561.6,302.3 562.3,302.2 562.9,302.2 563.6,302.1 564.3,302.1 566.1,301.9 566.7,301.9 567.4,301.8 568.1,301.8 568.8,301.8 569.4,301.8 570.1,301.8 570.8,301.8 571.5,301.8 572.2,301.8 572.9,301.9 573.6,301.9 574.3,301.9 575.0,302.0 575.7,302.0 577.4,302.2 578.1,302.3 578.9,302.4 579.6,302.4 580.3,302.5 581.0,302.6 581.7,302.7 582.4,302.8 583.1,303.0 583.8,303.1 584.6,303.2 585.3,303.4 586.0,303.5 586.8,303.7 587.5,303.9 588.2,304.0 588.9,304.2 589.7,304.4 590.4,304.6 591.2,304.8 592.7,305.2 593.4,305.5 594.2,305.7 594.9,305.9 595.6,306.1 596.4,306.4 597.1,306.6 597.8,306.9 598.6,307.1 599.3,307.4 600.1,307.7 600.8,308.0 601.6,308.3 602.3,308.6 603.0,308.9 603.8,309.2 604.5,309.5 605.3,309.8 606.0,310.2 606.8,310.5 607.5,310.9 608.3,311.2 609.0,311.6 609.8,312.0 610.5,312.3 611.3,312.7 612.0,313.1 613.2,313.7 613.9,314.1 614.7,314.5 615.4,314.9 616.1,315.3 616.9,315.8 617.6,316.2 618.4,316.6 619.1,317.1 619.8,317.5 620.6,318.0 621.3,318.4 622.0,318.9 622.8,319.4 623.5,319.8 624.3,320.3 625.0,320.8 625.7,321.3 626.4,321.8 627.2,322.3 627.9,322.9 628.6,323.4 629.4,323.9 630.1,324.4 630.8,325.0 631.5,325.5 632.3,326.1 633.0,326.6 633.7,327.2 634.4,327.8 635.1,328.4 635.8,328.9 636.6,329.5 637.3,330.1 638.0,330.7 638.7,331.3 639.4,331.9 640.1,332.5 640.8,333.2 641.5,333.8 642.2,334.4 642.9,335.1 643.6,335.7 644.3,336.3 644.9,337.0 645.6,337.6 646.3,338.3 647.0,339.0 647.7,339.6 648.3,340.3 649.0,341.0 649.7,341.7 650.3,342.4 650.8,342.8 651.4,343.5 652.1,344.2 652.7,344.9 653.3,345.6 654.0,346.3 654.6,347.0 655.3,347.7 655.9,348.4 656.5,349.1 657.2,349.8 657.8,350.6 658.4,351.3 659.0,352.0 659.6,352.8 660.2,353.5 660.8,354.3 661.4,355.0 662.0,355.8 662.6,356.5 663.2,357.3 663.8,358.0 664.4,358.8 665.0,359.6 665.5,360.4 666.1,361.1 666.7,361.9 667.3,362.7 667.8,363.5 668.4,364.3 668.9,365.1 669.5,365.9 670.0,366.7 670.5,367.5 671.1,368.3 671.6,369.1 672.1,369.9 672.7,370.7 673.2,371.5 673.7,372.3 674.2,373.1 674.7,374.0 675.2,374.8 675.7,375.6 676.2,376.4 676.7,377.3 677.1,378.1 677.6,378.9 678.1,379.8 678.6,380.6 679.0,381.4 679.5,382.3 679.9,383.1 680.4,384.0 680.8,384.8 681.3,385.7 681.7,386.5 682.1,387.3 682.5,388.2 682.9,389.0 683.4,389.9 683.8,390.7 684.2,391.6 684.5,392.5 684.9,393.3 685.3,394.2 685.7,395.0 686.1,395.9 686.4,396.7 686.8,397.6 687.2,398.4 687.5,399.3 687.8,400.2 688.2,401.0 688.5,401.9 688.8,402.7 689.2,403.6 689.4,404.1 689.7,405.0 690.0,405.9 690.3,406.8 690.6,407.6 690.9,408.5 691.2,409.4 691.5,410.2 691.8,411.1 692.1,412.0 692.3,412.8 692.6,413.7 692.8,414.6 693.1,415.4 693.3,416.3 693.6,417.2 693.8,418.0 694.0,418.9 694.2,419.8 694.5,420.6 694.7,421.5 694.9,422.3 695.1,423.2 695.2,424.0 695.4,424.9 695.6,425.7 695.8,426.6 695.9,427.4 696.1,428.3 696.2,429.1 696.4,430.0 696.5,430.8 696.7,431.7 696.8,432.5 696.9,433.3 697.0,434.2 697.1,435.0 697.2,435.8 697.3,436.6 697.4,437.4 697.5,438.3 697.6,439.1 697.6,439.9 697.7,440.7 697.7,441.5 697.8,442.3 697.8,443.1 697.9,443.9 697.9,444.7 697.9,445.5 697.9,446.3 697.9,447.1 697.9,447.9 697.9,449.1 697.9,449.9 697.9,450.7 697.9,451.4 697.9,452.2 697.9,453.0 697.8,453.8 697.8,454.5 697.7,455.3 697.7,456.1 697.6,456.8 697.6,457.6 697.5,458.3 697.4,459.1 697.3,459.8 697.2,460.5 697.1,461.3 697.0,462.0 696.9,462.7 696.8,463.4 696.6,464.1 696.5,464.8 696.4,465.5 696.2,466.2 696.1,466.9 695.9,467.6 695.7,468.3 695.4,469.8 695.2,470.4 695.0,471.1 694.8,471.8 694.7,472.5 694.5,473.1 694.3,473.8 694.0,474.5 693.8,475.1 693.6,475.8 693.4,476.4 693.1,477.0 692.9,477.7 692.6,478.3 692.4,478.9 692.1,479.5 691.8,480.1 691.6,480.7 691.3,481.3 691.0,481.9 690.3,483.4 690.0,484.0 689.7,484.5 689.4,485.1 689.1,485.7 688.7,486.2 688.4,486.8 688.1,487.4 687.7,487.9 687.4,488.4 687.1,489.0 686.7,489.5 686.3,490.0 686.0,490.5 685.6,491.0 684.5,492.4 684.2,492.9 683.8,493.4 683.4,493.9 683.0,494.4 682.6,494.9 682.2,495.3 681.8,495.8 681.3,496.3 680.9,496.7 680.5,497.2 680.0,497.6 679.6,498.0 679.1,498.4 677.8,499.7 677.4,500.1 676.9,500.5 676.4,500.9 675.9,501.3 675.5,501.7 675.0,502.0 674.5,502.4 674.0,502.8 673.5,503.1 673.0,503.5 672.5,503.8 672.0,504.2 670.4,505.2 669.9,505.5 669.4,505.8 668.8,506.1 668.3,506.5 667.8,506.8 Z" fill="#fff" stroke="#000" stroke-width="2.0" stroke-linejoin="round"/>
<path d="M678.7,498.8 L679.5,498.1 680.3,497.3 681.0,496.6 681.8,495.8 682.5,495.0 683.2,494.1 683.9,493.2 684.6,492.4 685.2,491.5 685.9,490.6 686.6,489.7 687.2,488.7 687.8,487.7 688.4,486.7 689.0,485.7 689.5,484.6 690.0,483.5 690.5,482.5 691.0,481.4 691.4,480.2 691.9,479.1 692.3,477.9 692.6,476.7 693.0,475.5 693.3,474.2 693.5,473.0 693.8,471.7 694.0,470.4 694.2,469.1 694.3,467.8 694.4,466.5 694.5,465.1 694.6,463.8 694.6,462.4 694.7,461.1 694.6,459.7 694.6,458.3 694.5,456.9 694.4,455.5 694.3,454.1 694.2,452.7 694.0,451.2 693.9,449.8 693.7,448.4 693.5,446.9 693.3,445.5 693.0,444.0 692.8,442.6 692.6,441.1 692.3,439.7 692.0,438.2 691.8,436.7 691.5,435.2 691.2,433.7 690.9,432.2 690.6,430.7 690.3,429.2 689.9,427.7 689.6,426.2 689.2,424.6 688.8,423.1 688.4,421.6 688.0,420.0 687.5,418.5 687.0,417.0 686.5,415.4 686.0,413.9 685.5,412.3 685.0,410.8 684.4,409.2 683.8,407.7 683.2,406.2 682.6,404.6 682.0,403.1 681.3,401.5 680.7,400.0 680.0,398.4 679.3,396.9 678.6,395.4 677.9,393.8 677.1,392.3 676.3,390.8 675.6,389.2 674.8,387.7 674.0,386.2 673.1,384.7 672.3,383.2 671.5,381.7 670.6,380.2 669.7,378.7 668.8,377.2 667.9,375.7 667.0,374.3 666.0,372.8 665.1,371.3 664.1,369.9 663.1,368.5 662.2,367.0 661.1,365.6 660.1,364.2 659.1,362.8 658.1,361.4 657.0,360.0 656.0,358.7 654.9,357.3 653.8,355.9 652.7,354.6 651.6,353.3 650.5,352.0 649.3,350.7 648.2,349.4 647.1,348.1 645.9,346.8 644.7,345.6 643.6,344.3 642.4,343.1 641.2,341.9 640.0,340.7 638.8,339.5 637.6,338.4 636.4,337.2 635.1,336.1 633.9,335.0 632.7,333.8 631.4,332.8 630.2,331.7 628.9,330.6 627.6,329.6 626.4,328.6 625.1,327.6 623.8,326.6 622.5,325.6 621.2,324.7 620.0,323.7 618.7,322.8 617.4,321.9 616.1,321.1 614.8,320.2 613.5,319.4 612.2,318.5 610.8,317.7 609.5,317.0 608.2,316.2 606.9,315.5 605.6,314.7 604.3,314.0 603.0,313.4 601.7,312.7 600.4,312.1 599.1,311.4 597.7,310.9 596.4,310.3 595.1,309.7 593.8,309.2 592.5,308.7 591.2,308.2 589.9,307.7 588.6,307.3 587.4,306.9 586.1,306.5 584.8,306.1 583.5,305.7 582.2,305.4 581.0,305.1 579.7,304.8 578.4,304.5 577.2,304.3 576.0,304.1 574.7,303.9 573.5,303.7 572.3,303.5 571.0,303.4 569.8,303.3 568.6,303.2 567.4,303.1 566.2,303.1 565.1,303.1 563.9,303.1 562.7,303.1 561.6,303.2 560.4,303.2 559.3,303.3 558.2,303.5 557.1,303.6 556.0,303.8 554.9,304.0 553.8,304.2 552.7,304.4 551.6,304.7 550.6,304.9 549.6,305.2 548.5,305.6 547.5,305.9 546.5,306.3 545.5,306.7 544.6,307.1 543.6,307.5 542.7,308.0 541.7,308.5" fill="none" stroke="#000" stroke-width="2.0" stroke-linecap="round"/>
<path d="M630.1,526.6 L631.2,526.0 632.3,525.4 633.3,524.7 634.3,524.1 635.4,523.3 636.3,522.6 637.3,521.8 638.2,521.0 639.2,520.2 640.1,519.4 640.9,518.5 641.8,517.6 642.6,516.6 643.4,515.7 644.2,514.7 645.0,513.6 645.7,512.6 646.4,511.5 647.1,510.4 647.8,509.3 648.4,508.2 649.1,507.0 649.7,505.8 650.2,504.6 650.8,503.3 651.3,502.1 651.8,500.8 652.2,499.4 652.7,498.1 653.1,496.8 653.5,495.4 653.8,494.0 654.2,492.6 654.5,491.1 654.8,489.7 655.0,488.2 655.3,486.7 655.5,485.2 655.6,483.7 655.8,482.1 655.9,480.5 656.0,479.0 656.1,477.4 656.1,475.8 656.1,474.1 656.1,472.5 656.1,470.8 656.0,469.2 655.9,467.5 655.8,465.8 655.6,464.1 655.5,462.4 655.3,460.6 655.0,458.9 654.8,457.2 654.5,455.4 654.2,453.6 653.8,451.9 653.5,450.1 653.1,448.3 652.7,446.5 652.2,444.7 651.8,442.9 651.3,441.1 650.8,439.3 650.2,437.5 649.7,435.6 649.1,433.8 648.4,432.0 647.8,430.2 647.1,428.3 646.4,426.5 645.7,424.7 645.0,422.9 644.2,421.0 643.4,419.2 642.6,417.4 641.8,415.6 640.9,413.8 640.1,412.0 639.2,410.2 638.2,408.4 637.3,406.6 636.3,404.8 635.4,403.0 634.3,401.2 633.3,399.5 632.3,397.7 631.2,396.0 630.1,394.2 629.0,392.5 627.9,390.8 626.8,389.1 625.6,387.4 624.4,385.7 623.2,384.0 622.0,382.4 620.8,380.7 619.5,379.1 618.3,377.5 617.0,375.9 615.7,374.3 614.4,372.7 613.1,371.2 611.7,369.6 610.4,368.1 609.0,366.6 607.7,365.2 606.3,363.7 604.9,362.3 603.5,360.8 602.0,359.4 600.6,358.0 599.2,356.7 597.7,355.4 596.3,354.0 594.8,352.7 593.3,351.5 591.8,350.2 590.3,349.0 588.8,347.8 587.3,346.6 585.8,345.5 584.3,344.3 582.8,343.2 581.3,342.2 579.7,341.1 578.2,340.1 576.7,339.1 575.1,338.1 573.6,337.2 572.0,336.3 570.5,335.4 568.9,334.5 567.4,333.7 565.8,332.9 564.3,332.1 562.7,331.4 561.2,330.7 559.6,330.0 558.1,329.3 556.6,328.7 555.0,328.1 553.5,327.5 552.0,327.0 550.4,326.5 548.9,326.0 547.4,325.6 545.9,325.2 544.4,324.8 542.9,324.4 541.4,324.1 540.0,323.8 538.5,323.6 537.0,323.3 535.6,323.1 534.1,323.0 532.7,322.9 531.3,322.8 529.9,322.7 528.5,322.7 527.1,322.7 525.7,322.7 524.4,322.7 523.0,322.8 521.7,323.0 520.3,323.1 519.0,323.3 517.8,323.5 516.5,323.8 515.2,324.1 514.0,324.4 512.7,324.7 511.5,325.1 510.3,325.5 509.2,326.0 508.0,326.4 506.9,326.9 505.7,327.5 504.6,328.0 503.5,328.6 502.5,329.2 501.4,329.9 500.4,330.6 499.4,331.3 498.4,332.0 497.4,332.8 496.5,333.6 495.6,334.4 494.7,335.3 493.8,336.2 492.9,337.1 492.1,338.0 491.3,339.0 490.5,340.0 489.8,341.0 489.0,342.0 488.3,343.1 487.6,344.2 486.9,345.3 486.3,346.5 485.7,347.6 485.1,348.8 484.5,350.1 484.0,351.3 483.5,352.6 483.0,353.9 482.5,355.2 482.1,356.5 481.7,357.9 481.3,359.2 480.9,360.6 480.6,362.1 480.3,363.5 480.0,365.0 479.7,366.4 479.5,367.9 479.3,369.4 479.1,371.0 479.0,372.5 478.8,374.1 478.8,375.7 478.7,377.3 478.6,378.9 478.6,380.5 478.6,382.1 478.7,383.8 478.8,385.5 478.8,387.2 479.0,388.8 479.1,390.5 479.3,392.3 479.5,394.0 479.7,395.7 480.0,397.5 480.3,399.2 480.6,401.0 480.9,402.8 481.3,404.5 481.7,406.3 482.1,408.1 482.5,409.9 483.0,411.7 483.5,413.5 484.0,415.3 484.5,417.2 485.1,419.0 485.7,420.8 486.3,422.6 486.9,424.5 487.6,426.3 488.3,428.1 489.0,429.9 489.8,431.8 490.5,433.6 491.3,435.4 492.1,437.2 492.9,439.0 493.8,440.9 494.7,442.7 495.6,444.5 496.5,446.3 497.4,448.1 498.4,449.9 499.4,451.6 500.4,453.4 501.4,455.2 502.5,456.9 503.5,458.7 504.6,460.4 505.7,462.1 506.9,463.9 508.0,465.6 509.2,467.3 510.3,468.9 511.5,470.6 512.7,472.3 514.0,473.9 515.2,475.5 516.5,477.2 517.8,478.8 519.0,480.3 520.3,481.9 521.7,483.5 523.0,485.0 524.4,486.5 525.7,488.0 527.1,489.5 528.5,490.9 529.9,492.4 531.3,493.8 532.7,495.2 534.1,496.6 535.6,497.9 537.0,499.3 538.5,500.6 540.0,501.9 541.4,503.2 542.9,504.4 544.4,505.6 545.9,506.8 547.4,508.0 548.9,509.2 550.4,510.3 552.0,511.4 553.5,512.5 555.0,513.5 556.6,514.5 558.1,515.5 559.6,516.5 561.2,517.4 562.7,518.4 564.3,519.2 565.8,520.1 567.4,520.9 568.9,521.7 570.5,522.5 572.0,523.3 573.6,524.0 575.1,524.7 576.7,525.3 578.2,525.9 579.7,526.5 581.3,527.1 582.8,527.6 584.3,528.1 585.8,528.6 587.3,529.1 588.8,529.5 590.3,529.9 591.8,530.2 593.3,530.5 594.8,530.8 596.3,531.1 597.7,531.3 599.2,531.5 600.6,531.6 602.0,531.8 603.5,531.9 604.9,531.9 606.3,532.0 607.7,532.0 609.0,531.9 610.4,531.9 611.7,531.8 613.1,531.7 614.4,531.5 615.7,531.3 617.0,531.1 618.3,530.8 619.5,530.6 620.8,530.3 622.0,529.9 623.2,529.5 624.4,529.1 625.6,528.7 626.8,528.2 627.9,527.7 629.0,527.2 Z" fill="#fff" stroke="#000" stroke-width="2.0"/>
<path d="M586.1,456.6 L481.1,512.0 481.0,512.1 480.8,512.2 480.7,512.2 480.5,512.3 480.3,512.4 480.1,512.5 480.0,512.5 479.8,512.6 479.6,512.7 479.5,512.7 479.3,512.8 479.1,512.9 478.9,512.9 478.7,513.0 478.6,513.0 478.4,513.1 478.2,513.1 478.0,513.2 477.8,513.2 477.6,513.2 477.4,513.3 477.3,513.3 477.1,513.4 476.9,513.4 476.7,513.4 476.5,513.4 476.3,513.5 476.1,513.5 475.9,513.5 475.7,513.5 475.5,513.5 475.3,513.5 475.1,513.6 474.9,513.6 474.7,513.6 474.5,513.6 474.3,513.6 474.1,513.6 473.9,513.6 473.7,513.6 473.5,513.6 473.3,513.5 473.0,513.5 472.8,513.5 472.6,513.5 472.4,513.5 472.2,513.5 472.0,513.4 471.8,513.4 471.6,513.4 471.3,513.3 471.1,513.3 470.9,513.3 470.7,513.2 470.5,513.2 470.3,513.1 470.0,513.1 469.8,513.1 469.6,513.0 469.4,512.9 469.1,512.9 468.9,512.8 468.7,512.8 468.5,512.7 468.3,512.6 468.0,512.6 467.8,512.5 467.6,512.4 467.4,512.4 467.1,512.3 466.9,512.2 466.7,512.1 466.5,512.0 466.2,512.0 466.0,511.9 465.8,511.8 465.5,511.7 465.3,511.6 465.1,511.5 464.9,511.4 464.6,511.3 464.4,511.2 464.2,511.1 463.9,511.0 463.7,510.9 463.5,510.8 463.3,510.7 463.0,510.5 462.8,510.4 462.6,510.3 462.3,510.2 462.1,510.1 461.9,509.9 461.7,509.8 461.4,509.7 461.2,509.5 461.0,509.4 460.7,509.3 460.5,509.1 460.3,509.0 460.1,508.9 459.8,508.7 459.6,508.6 459.4,508.4 459.1,508.3 458.9,508.1 458.7,508.0 458.5,507.8 458.2,507.6 458.0,507.5 457.8,507.3 457.6,507.2 457.3,507.0 457.1,506.8 456.9,506.7 456.7,506.5 456.4,506.3 456.2,506.1 456.0,506.0 455.8,505.8 455.6,505.6 455.3,505.4 455.1,505.2 454.9,505.0 454.7,504.9 454.5,504.7 454.2,504.5 454.0,504.3 453.8,504.1 453.6,503.9 453.4,503.7 453.2,503.5 452.9,503.3 452.7,503.1 452.5,502.9 452.3,502.7 452.1,502.5 451.9,502.3 451.7,502.1 451.5,501.9 451.3,501.6 451.1,501.4 450.9,501.2 450.6,501.0 450.4,500.8 450.2,500.6 450.0,500.3 449.8,500.1 449.6,499.9 449.4,499.7 449.2,499.4 449.0,499.2 448.8,499.0 448.7,498.8 448.5,498.5 448.3,498.3 448.1,498.1 447.9,497.8 447.7,497.6 447.5,497.3 447.3,497.1 447.1,496.9 446.9,496.6 446.8,496.4 446.6,496.1 446.4,495.9 446.2,495.7 446.0,495.4 445.9,495.2 445.7,494.9 445.5,494.7 445.3,494.4 445.2,494.2 445.0,493.9 444.8,493.7 444.7,493.4 444.5,493.2 444.3,492.9 444.2,492.6 444.0,492.4 443.8,492.1 443.7,491.9 443.5,491.6 443.4,491.4 443.2,491.1 443.1,490.8 442.9,490.6 442.7,490.3 442.6,490.1 442.4,489.8 442.3,489.5 442.2,489.3 442.0,489.0 441.9,488.7 441.7,488.5 441.6,488.2 441.5,487.9 441.3,487.7 441.2,487.4 441.1,487.1 440.9,486.9 440.8,486.6 440.7,486.3 440.5,486.1 440.4,485.8 440.3,485.5 440.2,485.3 440.1,485.0 439.9,484.7 439.8,484.5 439.7,484.2 439.6,483.9 439.5,483.6 439.4,483.4 439.3,483.1 439.2,482.8 439.1,482.6 439.0,482.3 438.9,482.0 438.8,481.7 438.7,481.5 438.6,481.2 438.5,480.9 438.4,480.7 438.3,480.4 438.2,480.1 438.1,479.9 438.0,479.6 438.0,479.3 437.9,479.1 437.8,478.8 437.7,478.5 437.7,478.2 437.6,478.0 437.5,477.7 437.5,477.4 437.4,477.2 437.3,476.9 437.3,476.6 437.2,476.4 437.1,476.1 437.1,475.9 437.0,475.6 437.0,475.3 436.9,475.1 436.9,474.8 436.8,474.5 436.8,474.3 436.7,474.0 436.7,473.8 436.7,473.5 436.6,473.2 436.6,473.0 436.6,472.7 436.5,472.5 436.5,472.2 436.5,472.0 436.4,471.7 436.4,471.5 436.4,471.2 436.4,471.0 436.4,470.7 436.4,470.5 436.3,470.2 436.3,470.0 436.3,469.7 436.3,469.5 436.3,469.2 436.3,469.0 436.3,468.7 436.3,468.5 436.3,468.3 436.3,468.0 436.3,467.8 436.3,467.5 436.3,467.3 436.4,467.1 436.4,466.8 436.4,466.6 436.4,466.4 436.4,466.1 436.4,465.9 436.5,465.7 436.5,465.5 436.5,465.2 436.6,465.0 436.6,464.8 436.6,464.6 436.7,464.4 436.7,464.1 436.7,463.9 436.8,463.7 436.8,463.5 436.9,463.3 436.9,463.1 437.0,462.9 437.0,462.7 437.1,462.4 437.1,462.2 437.2,462.0 437.3,461.8 437.3,461.6 437.4,461.4 437.5,461.2 437.5,461.0 437.6,460.9 437.7,460.7 437.7,460.5 437.8,460.3 437.9,460.1 438.0,459.9 438.0,459.7 438.1,459.5 438.2,459.4 438.3,459.2 438.4,459.0 438.5,458.8 438.6,458.7 438.7,458.5 438.8,458.3 438.9,458.2 439.0,458.0 439.1,457.8 439.2,457.7 439.3,457.5 439.4,457.4 439.5,457.2 439.6,457.0 439.7,456.9 439.8,456.7 439.9,456.6 440.1,456.4 440.2,456.3 440.3,456.2 440.4,456.0 440.5,455.9 440.7,455.7 440.8,455.6 440.9,455.5 441.1,455.4 441.2,455.2 441.3,455.1 441.5,455.0 441.6,454.9 441.7,454.7 441.9,454.6 442.0,454.5 442.2,454.4 442.3,454.3 442.4,454.2 442.6,454.1 442.7,454.0 442.9,453.9 443.1,453.8 443.2,453.7 443.4,453.6 443.5,453.5 443.7,453.4 443.8,453.3 444.0,453.2 549.0,397.8 549.1,397.7 549.3,397.7 549.5,397.6 549.6,397.5 549.8,397.4 550.0,397.4 550.1,397.3 550.3,397.2 550.5,397.2 550.7,397.1 550.8,397.0 551.0,397.0 551.2,396.9 551.4,396.9 551.6,396.8 551.7,396.8 551.9,396.7 552.1,396.7 552.3,396.6 552.5,396.6 552.7,396.5 552.9,396.5 553.1,396.5 553.2,396.4 553.4,396.4 553.6,396.4 553.8,396.4 554.0,396.3 554.2,396.3 554.4,396.3 554.6,396.3 554.8,396.3 555.0,396.3 555.2,396.2 555.4,396.2 555.6,396.2 555.8,396.2 556.0,396.2 556.2,396.2 556.5,396.3 556.7,396.3 556.9,396.3 557.1,396.3 557.3,396.3 557.5,396.3 557.7,396.3 557.9,396.4 558.1,396.4 558.4,396.4 558.6,396.4 558.8,396.5 559.0,396.5 559.2,396.5 559.4,396.6 559.7,396.6 559.9,396.7 560.1,396.7 560.3,396.8 560.5,396.8 560.8,396.9 561.0,396.9 561.2,397.0 561.4,397.0 561.6,397.1 561.9,397.2 562.1,397.2 562.3,397.3 562.5,397.4 562.8,397.4 563.0,397.5 563.2,397.6 563.4,397.7 563.7,397.8 563.9,397.9 564.1,397.9 564.4,398.0 564.6,398.1 564.8,398.2 565.0,398.3 565.3,398.4 565.5,398.5 565.7,398.6 565.9,398.7 566.2,398.8 566.4,398.9 566.6,399.0 566.9,399.2 567.1,399.3 567.3,399.4 567.6,399.5 567.8,399.6 568.0,399.8 568.2,399.9 568.5,400.0 568.7,400.1 568.9,400.3 569.2,400.4 569.4,400.5 569.6,400.7 569.8,400.8 570.1,401.0 570.3,401.1 570.5,401.3 570.8,401.4 571.0,401.6 571.2,401.7 571.4,401.9 571.7,402.0 571.9,402.2 572.1,402.3 572.3,402.5 572.6,402.7 572.8,402.8 573.0,403.0 573.2,403.2 573.5,403.3 573.7,403.5 573.9,403.7 574.1,403.9 574.4,404.0 574.6,404.2 574.8,404.4 575.0,404.6 575.2,404.8 575.5,405.0 575.7,405.1 575.9,405.3 576.1,405.5 576.3,405.7 576.5,405.9 576.8,406.1 577.0,406.3 577.2,406.5 577.4,406.7 577.6,406.9 577.8,407.1 578.0,407.3 578.2,407.5 578.4,407.8 578.7,408.0 578.9,408.2 579.1,408.4 579.3,408.6 579.5,408.8 579.7,409.0 579.9,409.3 580.1,409.5 580.3,409.7 580.5,409.9 580.7,410.2 580.9,410.4 581.1,410.6 581.3,410.8 581.5,411.1 581.7,411.3 581.9,411.5 582.1,411.8 582.2,412.0 582.4,412.2 582.6,412.5 582.8,412.7 583.0,412.9 583.2,413.2 583.4,413.4 583.5,413.7 583.7,413.9 583.9,414.2 584.1,414.4 584.3,414.7 584.4,414.9 584.6,415.1 584.8,415.4 585.0,415.6 585.1,415.9 585.3,416.2 585.5,416.4 585.6,416.7 585.8,416.9 586.0,417.2 586.1,417.4 586.3,417.7 586.4,417.9 586.6,418.2 586.8,418.5 586.9,418.7 587.1,419.0 587.2,419.2 587.4,419.5 587.5,419.8 587.7,420.0 587.8,420.3 588.0,420.6 588.1,420.8 588.3,421.1 588.4,421.3 588.5,421.6 588.7,421.9 588.8,422.1 588.9,422.4 589.1,422.7 589.2,422.9 589.3,423.2 589.5,423.5 589.6,423.7 589.7,424.0 589.8,424.3 589.9,424.6 590.1,424.8 590.2,425.1 590.3,425.4 590.4,425.6 590.5,425.9 590.6,426.2 590.7,426.4 590.9,426.7 591.0,427.0 591.1,427.3 591.2,427.5 591.3,427.8 591.4,428.1 591.5,428.3 591.5,428.6 591.6,428.9 591.7,429.1 591.8,429.4 591.9,429.7 592.0,430.0 592.1,430.2 592.2,430.5 592.2,430.8 592.3,431.0 592.4,431.3 592.5,431.6 592.5,431.8 592.6,432.1 592.7,432.4 592.7,432.6 592.8,432.9 592.9,433.2 592.9,433.4 593.0,433.7 593.0,434.0 593.1,434.2 593.1,434.5 593.2,434.8 593.2,435.0 593.3,435.3 593.3,435.5 593.4,435.8 593.4,436.1 593.5,436.3 593.5,436.6 593.5,436.8 593.6,437.1 593.6,437.3 593.6,437.6 593.7,437.9 593.7,438.1 593.7,438.4 593.7,438.6 593.7,438.9 593.8,439.1 593.8,439.4 593.8,439.6 593.8,439.9 593.8,440.1 593.8,440.3 593.8,440.6 593.8,440.8 593.8,441.1 593.8,441.3 593.8,441.6 593.8,441.8 593.8,442.0 593.8,442.3 593.8,442.5 593.8,442.7 593.8,443.0 593.7,443.2 593.7,443.4 593.7,443.7 593.7,443.9 593.7,444.1 593.6,444.4 593.6,444.6 593.6,444.8 593.5,445.0 593.5,445.2 593.5,445.5 593.4,445.7 593.4,445.9 593.3,446.1 593.3,446.3 593.2,446.5 593.2,446.7 593.1,447.0 593.1,447.2 593.0,447.4 593.0,447.6 592.9,447.8 592.9,448.0 592.8,448.2 592.7,448.4 592.7,448.6 592.6,448.8 592.5,449.0 592.5,449.2 592.4,449.3 592.3,449.5 592.2,449.7 592.2,449.9 592.1,450.1 592.0,450.3 591.9,450.4 591.8,450.6 591.7,450.8 591.6,451.0 591.5,451.1 591.5,451.3 591.4,451.5 591.3,451.7 591.2,451.8 591.1,452.0 591.0,452.1 590.9,452.3 590.7,452.5 590.6,452.6 590.5,452.8 590.4,452.9 590.3,453.1 590.2,453.2 590.1,453.4 589.9,453.5 589.8,453.7 589.7,453.8 589.6,453.9 589.5,454.1 589.3,454.2 589.2,454.3 589.1,454.5 588.9,454.6 588.8,454.7 588.7,454.8 588.5,455.0 588.4,455.1 588.3,455.2 588.1,455.3 588.0,455.4 587.8,455.5 587.7,455.6 587.5,455.8 587.4,455.9 587.2,456.0 587.1,456.1 586.9,456.2 586.8,456.3 586.6,456.3 586.4,456.4 586.3,456.5 Z" fill="#fff" stroke="#000" stroke-width="2.0" stroke-linejoin="round"/>
<path d="M516.4,586.6 L480.9,605.3 480.4,605.6 479.8,605.9 479.3,606.1 478.7,606.4 478.2,606.6 477.6,606.9 477.0,607.1 476.4,607.4 475.8,607.6 475.2,607.8 474.6,608.0 474.0,608.2 473.4,608.4 472.8,608.6 472.2,608.8 471.6,608.9 471.0,609.1 470.4,609.3 469.7,609.4 469.1,609.5 468.5,609.7 467.8,609.8 467.2,609.9 466.5,610.0 465.9,610.1 465.2,610.2 464.6,610.3 463.9,610.4 463.2,610.4 462.6,610.5 461.9,610.5 461.2,610.6 460.5,610.6 459.9,610.6 459.2,610.7 458.5,610.7 457.8,610.7 457.1,610.7 456.4,610.6 455.7,610.6 455.0,610.6 454.3,610.6 453.6,610.5 452.9,610.5 452.2,610.4 451.4,610.3 450.7,610.3 450.0,610.2 449.3,610.1 448.6,610.0 447.8,609.9 447.1,609.8 446.4,609.6 445.6,609.5 444.9,609.4 444.1,609.2 443.4,609.1 442.7,608.9 441.9,608.7 441.2,608.5 440.4,608.4 439.7,608.2 438.9,608.0 438.2,607.7 437.4,607.5 436.7,607.3 435.9,607.1 435.1,606.8 434.4,606.6 433.6,606.3 432.8,606.1 432.1,605.8 431.3,605.5 430.6,605.2 429.8,604.9 429.0,604.6 428.2,604.3 427.5,604.0 426.7,603.7 425.9,603.3 425.2,603.0 424.4,602.7 423.6,602.3 422.8,601.9 422.1,601.6 421.3,601.2 420.5,600.8 419.7,600.4 419.0,600.0 418.2,599.6 417.4,599.2 416.7,598.8 415.9,598.4 415.1,597.9 414.3,597.5 413.6,597.0 412.8,596.6 412.0,596.1 411.2,595.7 410.5,595.2 409.7,594.7 408.9,594.2 408.2,593.7 407.4,593.2 406.6,592.7 405.8,592.2 405.1,591.7 404.3,591.1 403.6,590.6 402.8,590.1 402.0,589.5 401.3,589.0 400.5,588.4 399.7,587.8 399.0,587.3 398.2,586.7 397.5,586.1 396.7,585.5 396.0,584.9 395.2,584.3 394.5,583.7 393.7,583.1 393.0,582.5 392.3,581.8 391.5,581.2 390.8,580.6 390.0,579.9 389.3,579.3 388.6,578.6 387.8,578.0 387.1,577.3 386.4,576.6 385.7,575.9 385.0,575.3 384.2,574.6 383.5,573.9 382.8,573.2 382.1,572.5 381.4,571.8 380.7,571.1 380.0,570.3 379.3,569.6 378.6,568.9 377.9,568.2 377.2,567.4 376.5,566.7 375.9,565.9 375.2,565.2 374.5,564.4 373.8,563.7 373.2,562.9 372.5,562.1 371.8,561.4 371.2,560.6 370.5,559.8 369.9,559.0 369.2,558.2 368.6,557.4 367.9,556.6 367.3,555.8 366.7,555.0 366.0,554.2 365.4,553.4 364.8,552.6 364.2,551.8 363.6,551.0 363.0,550.1 362.4,549.3 361.8,548.5 361.2,547.6 360.6,546.8 360.0,545.9 359.4,545.1 358.8,544.2 358.2,543.4 357.7,542.5 357.1,541.7 356.6,540.8 356.0,540.0 355.5,539.1 354.9,538.2 354.4,537.4 353.8,536.5 353.3,535.6 352.8,534.7 352.3,533.9 351.7,533.0 351.2,532.1 350.7,531.2 350.2,530.3 349.7,529.4 349.2,528.5 348.7,527.6 348.3,526.8 347.8,525.9 347.3,525.0 346.9,524.1 346.4,523.2 346.0,522.3 345.5,521.4 345.1,520.4 344.6,519.5 344.2,518.6 343.8,517.7 343.4,516.8 342.9,515.9 342.5,515.0 342.1,514.1 341.7,513.2 341.3,512.3 341.0,511.4 340.6,510.4 340.2,509.5 339.8,508.6 339.5,507.7 339.1,506.8 338.8,505.9 338.4,505.0 338.1,504.1 337.8,503.1 337.4,502.2 337.1,501.3 336.8,500.4 336.5,499.5 336.2,498.6 335.9,497.7 335.6,496.8 335.4,495.8 335.1,494.9 334.8,494.0 334.5,493.1 334.3,492.2 334.0,491.3 333.8,490.4 333.6,489.5 333.3,488.6 333.1,487.7 332.9,486.8 332.7,485.9 332.5,485.0 332.3,484.1 332.1,483.2 331.9,482.3 331.7,481.5 331.6,480.6 331.4,479.7 331.2,478.8 331.1,477.9 330.9,477.0 330.8,476.2 330.7,475.3 330.6,474.4 330.4,473.5 330.3,472.7 330.2,471.8 330.1,470.9 330.0,470.1 329.9,469.2 329.9,468.4 329.8,467.5 329.7,466.7 329.7,465.8 329.6,465.0 329.6,464.2 329.5,463.3 329.5,462.5 329.5,461.7 329.5,460.8 329.5,460.0 329.5,459.2 329.5,458.4 329.5,457.6 329.5,456.8 329.5,456.0 329.5,455.2 329.6,454.4 329.6,453.6 329.7,452.8 329.7,452.0 329.8,451.2 329.9,450.4 329.9,449.7 330.0,448.9 330.1,448.1 330.2,447.4 330.3,446.6 330.4,445.9 330.6,445.1 330.7,444.4 330.8,443.6 330.9,442.9 331.1,442.2 331.2,441.5 331.4,440.8 331.6,440.0 331.7,439.3 331.9,438.6 332.1,437.9 332.3,437.2 332.5,436.6 332.7,435.9 332.9,435.2 333.1,434.5 333.3,433.9 333.6,433.2 333.8,432.6 334.0,431.9 334.3,431.3 334.5,430.6 334.8,430.0 335.1,429.4 335.4,428.8 335.6,428.1 335.9,427.5 336.2,426.9 336.5,426.3 336.8,425.7 337.1,425.2 337.4,424.6 337.8,424.0 338.1,423.4 338.4,422.9 338.8,422.3 339.1,421.8 339.5,421.3 339.8,420.7 340.2,420.2 340.6,419.7 341.0,419.2 341.3,418.7 341.7,418.2 342.1,417.7 342.5,417.2 342.9,416.7 343.4,416.2 343.8,415.8 344.2,415.3 344.6,414.8 345.1,414.4 345.5,414.0 346.0,413.5 346.4,413.1 346.9,412.7 347.3,412.3 347.8,411.9 348.3,411.5 348.7,411.1 349.2,410.7 349.7,410.3 350.2,410.0 350.7,409.6 351.2,409.3 351.7,408.9 352.3,408.6 352.8,408.2 353.3,407.9 353.8,407.6 354.4,407.3 354.9,407.0 355.4,406.7 390.9,388.0 391.4,387.7 392.0,387.5 392.5,387.2 393.1,386.9 393.7,386.7 394.2,386.4 395.9,385.7 396.5,385.5 397.0,385.3 397.6,385.0 398.2,384.8 398.8,384.6 399.4,384.4 400.0,384.2 400.6,384.0 401.2,383.9 401.8,383.7 402.5,383.5 403.1,383.4 404.8,382.9 405.5,382.8 406.1,382.7 406.7,382.5 407.4,382.4 408.0,382.3 408.6,382.2 409.3,382.1 409.9,382.0 410.6,381.9 411.3,381.8 411.9,381.8 412.6,381.7 413.3,381.7 415.0,381.5 415.7,381.5 416.4,381.5 417.0,381.4 417.7,381.4 418.4,381.4 419.1,381.4 419.8,381.4 420.4,381.4 421.1,381.4 421.8,381.5 422.5,381.5 423.2,381.6 423.9,381.6 424.6,381.7 426.3,381.8 427.0,381.9 427.7,382.0 428.4,382.1 429.1,382.1 429.9,382.2 430.6,382.3 431.3,382.5 432.0,382.6 432.7,382.7 433.4,382.9 434.2,383.0 434.9,383.1 435.6,383.3 436.4,383.5 437.1,383.7 437.8,383.8 438.6,384.0 439.3,384.2 440.0,384.4 441.5,384.9 442.3,385.1 443.0,385.3 443.7,385.5 444.5,385.7 445.2,386.0 445.9,386.2 446.7,386.5 447.4,386.8 448.2,387.0 448.9,387.3 449.6,387.6 450.4,387.9 451.1,388.2 451.9,388.5 452.6,388.8 453.4,389.1 454.1,389.5 454.9,389.8 455.6,390.1 456.4,390.5 457.1,390.8 457.9,391.2 458.6,391.6 459.4,392.0 460.1,392.3 460.9,392.7 462.0,393.3 462.7,393.7 463.5,394.1 464.2,394.5 465.0,394.9 465.7,395.4 466.4,395.8 467.2,396.2 467.9,396.7 468.7,397.1 469.4,397.6 470.1,398.0 470.9,398.5 471.6,399.0 472.3,399.4 473.1,399.9 473.8,400.4 474.5,400.9 475.3,401.4 476.0,401.9 476.7,402.5 477.5,403.0 478.2,403.5 478.9,404.1 479.6,404.6 480.4,405.1 481.1,405.7 481.8,406.3 482.5,406.8 483.3,407.4 484.0,408.0 484.7,408.6 485.4,409.1 486.1,409.7 486.8,410.3 487.5,410.9 488.2,411.5 488.9,412.2 489.6,412.8 490.3,413.4 491.0,414.0 491.7,414.7 492.4,415.3 493.1,416.0 493.8,416.6 494.5,417.3 495.2,417.9 495.9,418.6 496.5,419.3 497.2,420.0 497.9,420.6 498.5,421.3 499.2,422.0 499.6,422.4 500.3,423.1 500.9,423.8 501.6,424.5 502.2,425.2 502.9,425.9 503.5,426.6 504.1,427.3 504.8,428.0 505.4,428.8 506.0,429.5 506.6,430.2 507.3,430.9 507.9,431.7 508.5,432.4 509.1,433.2 509.7,433.9 510.3,434.7 510.9,435.4 511.5,436.2 512.1,436.9 512.7,437.7 513.3,438.5 513.9,439.3 514.4,440.0 515.0,440.8 515.6,441.6 516.1,442.4 516.7,443.2 517.3,444.0 517.8,444.8 518.4,445.5 518.9,446.3 519.5,447.2 520.0,448.0 520.5,448.8 521.0,449.6 521.6,450.4 522.1,451.2 522.6,452.0 523.1,452.8 523.6,453.7 524.1,454.5 524.6,455.3 525.1,456.1 525.6,457.0 526.1,457.8 526.5,458.6 527.0,459.5 527.5,460.3 527.9,461.2 528.4,462.0 528.9,462.8 529.3,463.7 529.7,464.5 530.2,465.4 530.6,466.2 531.0,467.1 531.5,467.9 531.9,468.8 532.3,469.6 532.7,470.5 533.1,471.3 533.5,472.2 533.9,473.1 534.3,473.9 534.6,474.8 535.0,475.6 535.4,476.5 535.7,477.3 536.1,478.2 536.4,479.1 536.8,479.9 537.1,480.8 537.5,481.7 537.8,482.5 538.1,483.4 538.3,483.9 538.6,484.8 538.9,485.6 539.3,486.5 539.6,487.4 539.9,488.3 540.2,489.1 540.4,490.0 540.7,490.9 541.0,491.7 541.3,492.6 541.5,493.5 541.8,494.4 542.0,495.2 542.3,496.1 542.5,497.0 542.7,497.8 543.0,498.7 543.2,499.5 543.4,500.4 543.6,501.3 543.8,502.1 544.0,503.0 544.2,503.8 544.4,504.7 544.6,505.5 544.7,506.4 544.9,507.2 545.0,508.1 545.2,508.9 545.3,509.8 545.5,510.6 545.6,511.5 545.7,512.3 545.9,513.1 546.0,514.0 546.1,514.8 546.2,515.6 546.3,516.4 546.4,517.3 546.4,518.1 546.5,518.9 546.6,519.7 546.6,520.5 546.7,521.3 546.7,522.1 546.8,522.9 546.8,523.7 546.9,524.5 546.9,525.3 546.9,526.1 546.9,526.9 546.9,527.7 546.9,528.9 546.9,529.7 546.9,530.4 546.9,531.2 546.9,532.0 546.8,532.8 546.8,533.6 546.7,534.3 546.7,535.1 546.6,535.9 546.6,536.6 546.5,537.4 546.4,538.1 546.4,538.9 546.3,539.6 546.2,540.3 546.1,541.1 546.0,541.8 545.8,542.5 545.7,543.2 545.6,543.9 545.5,544.7 545.3,545.4 545.2,546.1 545.0,546.7 544.9,547.4 544.7,548.1 544.4,549.5 544.2,550.2 544.0,550.9 543.8,551.6 543.6,552.2 543.4,552.9 543.2,553.6 543.0,554.2 542.8,554.9 542.6,555.5 542.3,556.1 542.1,556.8 541.8,557.4 541.6,558.0 541.3,558.7 541.1,559.3 540.8,559.9 540.5,560.5 540.3,561.1 540.0,561.7 539.3,563.1 539.0,563.7 538.7,564.2 538.4,564.8 538.1,565.4 537.7,566.0 537.4,566.5 537.1,567.1 536.7,567.6 536.4,568.1 536.0,568.7 535.7,569.2 535.3,569.7 535.0,570.2 534.6,570.8 533.6,572.1 533.2,572.6 532.8,573.1 532.4,573.6 532.0,574.1 531.6,574.5 531.2,575.0 530.8,575.5 530.4,575.9 529.9,576.4 529.5,576.8 529.1,577.2 528.6,577.7 528.2,578.1 526.9,579.3 526.4,579.7 526.0,580.1 525.5,580.5 525.0,580.9 524.5,581.3 524.1,581.7 523.6,582.0 523.1,582.4 522.6,582.8 522.1,583.1 521.6,583.5 521.1,583.8 519.6,584.8 519.0,585.1 518.5,585.4 518.0,585.7 517.4,586.0 516.9,586.3 Z" fill="#fff" stroke="#000" stroke-width="2.0" stroke-linejoin="round"/>
<path d="M527.9,578.4 L528.6,577.6 529.4,576.9 530.2,576.1 530.9,575.3 531.6,574.5 532.3,573.7 533.0,572.8 533.7,571.9 534.4,571.0 535.0,570.1 535.7,569.2 536.3,568.3 536.9,567.3 537.5,566.3 538.1,565.2 538.6,564.2 539.1,563.1 539.6,562.0 540.1,560.9 540.5,559.8 540.9,558.6 541.3,557.4 541.7,556.2 542.0,555.0 542.3,553.8 542.6,552.5 542.8,551.2 543.0,549.9 543.2,548.7 543.4,547.4 543.5,546.0 543.6,544.7 543.7,543.3 543.7,542.0 543.7,540.6 543.7,539.2 543.7,537.9 543.6,536.5 543.5,535.1 543.4,533.6 543.3,532.2 543.1,530.8 543.0,529.4 542.8,528.0 542.6,526.5 542.4,525.1 542.2,523.6 541.9,522.2 541.7,520.7 541.4,519.2 541.2,517.8 540.9,516.3 540.6,514.8 540.3,513.3 540.1,511.8 539.8,510.3 539.4,508.8 539.1,507.3 538.7,505.7 538.3,504.2 537.9,502.7 537.5,501.2 537.1,499.6 536.6,498.1 536.2,496.5 535.7,495.0 535.2,493.5 534.6,491.9 534.1,490.4 533.5,488.8 533.0,487.3 532.4,485.7 531.8,484.2 531.1,482.6 530.5,481.1 529.8,479.5 529.1,478.0 528.4,476.5 527.7,474.9 527.0,473.4 526.2,471.9 525.5,470.3 524.7,468.8 523.9,467.3 523.1,465.8 522.3,464.3 521.4,462.8 520.6,461.3 519.7,459.8 518.8,458.3 517.9,456.8 517.0,455.3 516.1,453.8 515.2,452.4 514.2,450.9 513.3,449.5 512.3,448.0 511.3,446.6 510.3,445.2 509.3,443.8 508.2,442.4 507.2,441.0 506.2,439.6 505.1,438.2 504.0,436.9 502.9,435.5 501.8,434.2 500.7,432.8 499.6,431.5 498.5,430.2 497.3,428.9 496.2,427.7 495.0,426.4 493.9,425.1 492.7,423.9 491.5,422.7 490.3,421.5 489.1,420.3 487.9,419.1 486.7,417.9 485.5,416.8 484.3,415.6 483.0,414.5 481.8,413.4 480.5,412.3 479.3,411.3 478.0,410.2 476.8,409.2 475.5,408.2 474.2,407.1 473.0,406.2 471.7,405.2 470.4,404.2 469.1,403.3 467.8,402.4 466.5,401.5 465.2,400.6 463.9,399.8 462.6,398.9 461.3,398.1 460.0,397.3 458.7,396.5 457.4,395.8 456.1,395.0 454.7,394.3 453.4,393.6 452.1,392.9 450.8,392.3 449.5,391.6 448.2,391.0 446.9,390.4 445.6,389.9 444.3,389.3 443.0,388.8 441.7,388.3 440.4,387.8 439.1,387.3 437.8,386.9 436.5,386.4 435.2,386.0 433.9,385.7 432.6,385.3 431.4,385.0 430.1,384.7 428.8,384.4 427.6,384.1 426.3,383.9 425.1,383.6 423.9,383.4 422.6,383.3 421.4,383.1 420.2,383.0 419.0,382.9 417.8,382.8 416.6,382.7 415.4,382.7 414.2,382.7 413.0,382.7 411.9,382.7 410.7,382.7 409.6,382.8 408.4,382.9 407.3,383.0 406.2,383.2 405.1,383.3 404.0,383.5 402.9,383.7 401.8,384.0 400.8,384.2 399.7,384.5 398.7,384.8 397.7,385.1 396.7,385.5 395.7,385.9 394.7,386.2 393.7,386.7 392.7,387.1 391.8,387.5 390.9,388.0" fill="none" stroke="#000" stroke-width="2.0" stroke-linecap="round"/>
<path d="M480.9,605.3 L482.0,604.7 483.1,604.1 484.1,603.4 485.2,602.7 486.2,602.0 487.2,601.3 488.1,600.5 489.1,599.7 490.0,598.9 490.9,598.0 491.8,597.2 492.6,596.2 493.5,595.3 494.3,594.3 495.1,593.3 495.8,592.3 496.6,591.3 497.3,590.2 498.0,589.1 498.6,588.0 499.3,586.8 499.9,585.7 500.5,584.5 501.0,583.2 501.6,582.0 502.1,580.7 502.6,579.4 503.1,578.1 503.5,576.8 503.9,575.4 504.3,574.1 504.7,572.7 505.0,571.2 505.3,569.8 505.6,568.4 505.8,566.9 506.1,565.4 506.3,563.9 506.5,562.3 506.6,560.8 506.7,559.2 506.8,557.6 506.9,556.0 506.9,554.4 506.9,552.8 506.9,551.2 506.9,549.5 506.8,547.8 506.7,546.2 506.6,544.5 506.5,542.8 506.3,541.1 506.1,539.3 505.8,537.6 505.6,535.8 505.3,534.1 505.0,532.3 504.7,530.5 504.3,528.8 503.9,527.0 503.5,525.2 503.1,523.4 502.6,521.6 502.1,519.8 501.6,518.0 501.0,516.2 500.5,514.3 499.9,512.5 499.3,510.7 498.6,508.9 498.0,507.0 497.3,505.2 496.6,503.4 495.8,501.6 495.1,499.7 494.3,497.9 493.5,496.1 492.6,494.3 491.8,492.5 490.9,490.6 490.0,488.8 489.1,487.0 488.1,485.2 487.2,483.5 486.2,481.7 485.2,479.9 484.1,478.1 483.1,476.4 482.0,474.6 480.9,472.9 479.8,471.2 478.7,469.5 477.6,467.8 476.4,466.1 475.2,464.4 474.0,462.7 472.8,461.0 471.6,459.4 470.4,457.8 469.1,456.2 467.8,454.6 466.5,453.0 465.2,451.4 463.9,449.9 462.6,448.3 461.2,446.8 459.9,445.3 458.5,443.8 457.1,442.4 455.7,440.9 454.3,439.5 452.9,438.1 451.4,436.7 450.0,435.4 448.6,434.0 447.1,432.7 445.6,431.4 444.1,430.2 442.7,428.9 441.2,427.7 439.7,426.5 438.2,425.3 436.7,424.2 435.1,423.0 433.6,421.9 432.1,420.9 430.6,419.8 429.0,418.8 427.5,417.8 425.9,416.8 424.4,415.9 422.8,415.0 421.3,414.1 419.7,413.2 418.2,412.4 416.7,411.6 415.1,410.8 413.6,410.1 412.0,409.3 410.5,408.7 408.9,408.0 407.4,407.4 405.8,406.8 404.3,406.2 402.8,405.7 401.3,405.2 399.7,404.7 398.2,404.3 396.7,403.8 395.2,403.5 393.7,403.1 392.3,402.8 390.8,402.5 389.3,402.2 387.8,402.0 386.4,401.8 385.0,401.7 383.5,401.5 382.1,401.4 380.7,401.4 379.3,401.3 377.9,401.3 376.5,401.4 375.2,401.4 373.8,401.5 372.5,401.6 371.2,401.8 369.9,402.0 368.6,402.2 367.3,402.5 366.0,402.7 364.8,403.1 363.6,403.4 362.4,403.8 361.2,404.2 360.0,404.6 358.8,405.1 357.7,405.6 356.6,406.1 355.4,406.7 354.4,407.3 353.3,407.9 352.3,408.6 351.2,409.3 350.2,410.0 349.2,410.7 348.3,411.5 347.3,412.3 346.4,413.1 345.5,414.0 344.6,414.8 343.8,415.8 342.9,416.7 342.1,417.7 341.3,418.7 340.6,419.7 339.8,420.7 339.1,421.8 338.4,422.9 337.8,424.0 337.1,425.2 336.5,426.3 335.9,427.5 335.4,428.8 334.8,430.0 334.3,431.3 333.8,432.6 333.3,433.9 332.9,435.2 332.5,436.6 332.1,437.9 331.7,439.3 331.4,440.8 331.1,442.2 330.8,443.6 330.6,445.1 330.3,446.6 330.1,448.1 329.9,449.7 329.8,451.2 329.7,452.8 329.6,454.4 329.5,456.0 329.5,457.6 329.5,459.2 329.5,460.8 329.5,462.5 329.6,464.2 329.7,465.8 329.8,467.5 329.9,469.2 330.1,470.9 330.3,472.7 330.6,474.4 330.8,476.2 331.1,477.9 331.4,479.7 331.7,481.5 332.1,483.2 332.5,485.0 332.9,486.8 333.3,488.6 333.8,490.4 334.3,492.2 334.8,494.0 335.4,495.8 335.9,497.7 336.5,499.5 337.1,501.3 337.8,503.1 338.4,505.0 339.1,506.8 339.8,508.6 340.6,510.4 341.3,512.3 342.1,514.1 342.9,515.9 343.8,517.7 344.6,519.5 345.5,521.4 346.4,523.2 347.3,525.0 348.3,526.8 349.2,528.5 350.2,530.3 351.2,532.1 352.3,533.9 353.3,535.6 354.4,537.4 355.5,539.1 356.6,540.8 357.7,542.5 358.8,544.2 360.0,545.9 361.2,547.6 362.4,549.3 363.6,551.0 364.8,552.6 366.0,554.2 367.3,555.8 368.6,557.4 369.9,559.0 371.2,560.6 372.5,562.1 373.8,563.7 375.2,565.2 376.5,566.7 377.9,568.2 379.3,569.6 380.7,571.1 382.1,572.5 383.5,573.9 385.0,575.3 386.4,576.6 387.8,578.0 389.3,579.3 390.8,580.6 392.3,581.8 393.7,583.1 395.2,584.3 396.7,585.5 398.2,586.7 399.7,587.8 401.3,589.0 402.8,590.1 404.3,591.1 405.8,592.2 407.4,593.2 408.9,594.2 410.5,595.2 412.0,596.1 413.6,597.0 415.1,597.9 416.7,598.8 418.2,599.6 419.7,600.4 421.3,601.2 422.8,601.9 424.4,602.7 425.9,603.3 427.5,604.0 429.0,604.6 430.6,605.2 432.1,605.8 433.6,606.3 435.1,606.8 436.7,607.3 438.2,607.7 439.7,608.2 441.2,608.5 442.7,608.9 444.1,609.2 445.6,609.5 447.1,609.8 448.6,610.0 450.0,610.2 451.4,610.3 452.9,610.5 454.3,610.6 455.7,610.6 457.1,610.7 458.5,610.7 459.9,610.6 461.2,610.6 462.6,610.5 463.9,610.4 465.2,610.2 466.5,610.0 467.8,609.8 469.1,609.5 470.4,609.3 471.6,608.9 472.8,608.6 474.0,608.2 475.2,607.8 476.4,607.4 477.6,606.9 478.7,606.4 479.8,605.9 Z" fill="#fff" stroke="#000" stroke-width="2.0"/>
<path d="M438.1,548.7 L437.9,548.8 437.6,548.9 437.4,549.0 437.2,549.1 436.9,549.2 436.7,549.3 436.5,549.3 436.2,549.4 436.0,549.5 435.7,549.6 435.5,549.7 435.2,549.7 435.0,549.8 434.7,549.8 434.5,549.9 434.2,550.0 434.0,550.0 433.7,550.1 433.5,550.1 433.2,550.2 432.9,550.2 432.7,550.2 432.4,550.3 432.1,550.3 431.9,550.3 431.6,550.3 431.3,550.4 431.1,550.4 430.8,550.4 430.5,550.4 430.2,550.4 430.0,550.4 429.7,550.4 429.4,550.4 429.1,550.4 428.8,550.4 428.6,550.4 428.3,550.4 428.0,550.4 427.7,550.3 427.4,550.3 427.1,550.3 426.8,550.3 426.5,550.2 426.3,550.2 426.0,550.1 425.7,550.1 425.4,550.1 425.1,550.0 424.8,549.9 424.5,549.9 424.2,549.8 423.9,549.8 423.6,549.7 423.3,549.6 423.0,549.6 422.7,549.5 422.4,549.4 422.1,549.3 421.8,549.2 421.5,549.2 421.2,549.1 420.9,549.0 420.6,548.9 420.3,548.8 420.0,548.7 419.7,548.6 419.3,548.5 419.0,548.3 418.7,548.2 418.4,548.1 418.1,548.0 417.8,547.9 417.5,547.7 417.2,547.6 416.9,547.5 416.6,547.3 416.3,547.2 415.9,547.1 415.6,546.9 415.3,546.8 415.0,546.6 414.7,546.5 414.4,546.3 414.1,546.1 413.8,546.0 413.5,545.8 413.1,545.6 412.8,545.5 412.5,545.3 412.2,545.1 411.9,544.9 411.6,544.8 411.3,544.6 411.0,544.4 410.7,544.2 410.3,544.0 410.0,543.8 409.7,543.6 409.4,543.4 409.1,543.2 408.8,543.0 408.5,542.8 408.2,542.6 407.9,542.4 407.6,542.1 407.3,541.9 407.0,541.7 406.7,541.5 406.3,541.2 406.0,541.0 405.7,540.8 405.4,540.5 405.1,540.3 404.8,540.1 404.5,539.8 404.2,539.6 403.9,539.3 403.6,539.1 403.3,538.8 403.0,538.6 402.7,538.3 402.4,538.1 402.1,537.8 401.9,537.5 401.6,537.3 401.3,537.0 401.0,536.7 400.7,536.5 400.4,536.2 400.1,535.9 399.8,535.6 399.5,535.3 399.3,535.1 399.0,534.8 398.7,534.5 398.4,534.2 398.1,533.9 397.8,533.6 397.6,533.3 397.3,533.0 397.0,532.7 396.7,532.4 396.5,532.1 396.2,531.8 395.9,531.5 395.7,531.2 395.4,530.9 395.1,530.6 394.9,530.3 394.6,530.0 394.3,529.7 394.1,529.3 393.8,529.0 393.6,528.7 393.3,528.4 393.0,528.1 392.8,527.7 392.5,527.4 392.3,527.1 392.0,526.7 391.8,526.4 391.6,526.1 391.3,525.7 391.1,525.4 390.8,525.1 390.6,524.7 390.4,524.4 390.1,524.1 389.9,523.7 389.7,523.4 389.4,523.0 389.2,522.7 389.0,522.3 388.8,522.0 388.5,521.6 388.3,521.3 388.1,520.9 387.9,520.6 387.7,520.2 387.5,519.9 387.3,519.5 387.0,519.2 386.8,518.8 386.6,518.5 386.4,518.1 386.2,517.8 386.0,517.4 385.8,517.0 385.7,516.7 385.5,516.3 385.3,516.0 385.1,515.6 384.9,515.2 384.7,514.9 384.5,514.5 384.4,514.1 384.2,513.8 384.0,513.4 383.8,513.1 383.7,512.7 383.5,512.3 383.3,512.0 383.2,511.6 383.0,511.2 382.9,510.9 382.7,510.5 382.6,510.1 382.4,509.8 382.3,509.4 382.1,509.0 382.0,508.7 381.8,508.3 381.7,507.9 381.6,507.6 381.4,507.2 381.3,506.8 381.2,506.5 381.0,506.1 380.9,505.7 380.8,505.4 380.7,505.0 380.6,504.6 380.5,504.3 380.3,503.9 380.2,503.5 380.1,503.2 380.0,502.8 379.9,502.4 379.8,502.1 379.7,501.7 379.6,501.3 379.6,501.0 379.5,500.6 379.4,500.3 379.3,499.9 379.2,499.5 379.1,499.2 379.1,498.8 379.0,498.5 378.9,498.1 378.9,497.8 378.8,497.4 378.7,497.1 378.7,496.7 378.6,496.3 378.6,496.0 378.5,495.6 378.5,495.3 378.4,494.9 378.4,494.6 378.4,494.3 378.3,493.9 378.3,493.6 378.3,493.2 378.2,492.9 378.2,492.5 378.2,492.2 378.2,491.9 378.1,491.5 378.1,491.2 378.1,490.8 378.1,490.5 378.1,490.2 378.1,489.9 378.1,489.5 378.1,489.2 378.1,488.9 378.1,488.5 378.1,488.2 378.1,487.9 378.1,487.6 378.2,487.3 378.2,486.9 378.2,486.6 378.2,486.3 378.3,486.0 378.3,485.7 378.3,485.4 378.4,485.1 378.4,484.8 378.4,484.5 378.5,484.2 378.5,483.9 378.6,483.6 378.6,483.3 378.7,483.0 378.7,482.7 378.8,482.4 378.9,482.1 378.9,481.8 379.0,481.5 379.1,481.3 379.1,481.0 379.2,480.7 379.3,480.4 379.4,480.2 379.5,479.9 379.6,479.6 379.6,479.3 379.7,479.1 379.8,478.8 379.9,478.6 380.0,478.3 380.1,478.0 380.2,477.8 380.3,477.5 380.5,477.3 380.6,477.0 380.7,476.8 380.8,476.6 380.9,476.3 381.0,476.1 381.2,475.8 381.3,475.6 381.4,475.4 381.6,475.2 381.7,474.9 381.8,474.7 382.0,474.5 382.1,474.3 382.3,474.1 382.4,473.8 382.6,473.6 382.7,473.4 382.9,473.2 383.0,473.0 383.2,472.8 383.3,472.6 383.5,472.4 383.7,472.2 383.8,472.1 384.0,471.9 384.2,471.7 384.4,471.5 384.5,471.3 384.7,471.2 384.9,471.0 385.1,470.8 385.3,470.7 385.5,470.5 385.7,470.3 385.8,470.2 386.0,470.0 386.2,469.9 386.4,469.7 386.6,469.6 386.8,469.4 387.0,469.3 387.3,469.2 387.5,469.0 387.7,468.9 387.9,468.8 388.1,468.7 388.3,468.5 388.5,468.4 388.8,468.3 389.0,468.2 393.5,466.0 393.7,465.8 393.9,465.7 394.2,465.6 394.4,465.5 394.6,465.4 394.9,465.4 395.1,465.3 395.3,465.2 395.6,465.1 395.8,465.0 396.0,464.9 396.3,464.9 396.5,464.8 396.8,464.7 397.0,464.7 397.3,464.6 397.5,464.5 397.8,464.5 398.0,464.4 398.3,464.4 398.6,464.3 398.8,464.3 399.1,464.3 399.3,464.2 399.6,464.2 399.9,464.2 400.1,464.1 400.4,464.1 400.7,464.1 400.9,464.1 401.2,464.1 401.5,464.0 401.8,464.0 402.0,464.0 402.3,464.0 402.6,464.0 402.9,464.0 403.2,464.0 403.4,464.1 403.7,464.1 404.0,464.1 404.3,464.1 404.6,464.1 404.9,464.2 405.2,464.2 405.4,464.2 405.7,464.3 406.0,464.3 406.3,464.3 406.6,464.4 406.9,464.4 407.2,464.5 407.5,464.6 407.8,464.6 408.1,464.7 408.4,464.7 408.7,464.8 409.0,464.9 409.3,465.0 409.6,465.0 409.9,465.1 410.2,465.2 410.5,465.3 410.8,465.4 411.1,465.5 411.4,465.6 411.7,465.7 412.0,465.8 412.3,465.9 412.6,466.0 412.9,466.1 413.2,466.2 413.6,466.3 413.9,466.5 414.2,466.6 414.5,466.7 414.8,466.8 415.1,467.0 415.4,467.1 415.7,467.2 416.0,467.4 416.3,467.5 416.6,467.7 417.0,467.8 417.3,468.0 417.6,468.1 417.9,468.3 418.2,468.5 418.5,468.6 418.8,468.8 419.1,469.0 419.4,469.1 419.8,469.3 420.1,469.5 420.4,469.7 420.7,469.9 421.0,470.0 421.3,470.2 421.6,470.4 421.9,470.6 422.2,470.8 422.5,471.0 422.8,471.2 423.2,471.4 423.5,471.6 423.8,471.9 424.1,472.1 424.4,472.3 424.7,472.5 425.0,472.7 425.3,473.0 425.6,473.2 425.9,473.4 426.2,473.6 426.5,473.9 426.8,474.1 427.1,474.4 427.4,474.6 427.7,474.8 428.0,475.1 428.3,475.3 428.6,475.6 428.9,475.8 429.2,476.1 429.5,476.4 429.8,476.6 430.1,476.9 430.4,477.1 430.7,477.4 431.0,477.7 431.2,478.0 431.5,478.2 431.8,478.5 432.1,478.8 432.4,479.1 432.7,479.3 433.0,479.6 433.2,479.9 433.5,480.2 433.8,480.5 434.1,480.8 434.4,481.1 434.6,481.4 434.9,481.7 435.2,482.0 435.5,482.3 435.7,482.6 436.0,482.9 436.3,483.2 436.5,483.5 436.8,483.8 437.1,484.1 437.3,484.4 437.6,484.7 437.8,485.1 438.1,485.4 438.4,485.7 438.6,486.0 438.9,486.3 439.1,486.7 439.4,487.0 439.6,487.3 439.9,487.6 440.1,488.0 440.4,488.3 440.6,488.6 440.8,489.0 441.1,489.3 441.3,489.6 441.5,490.0 441.8,490.3 442.0,490.7 442.2,491.0 442.5,491.3 442.7,491.7 442.9,492.0 443.1,492.4 443.4,492.7 443.6,493.1 443.8,493.4 444.0,493.8 444.2,494.1 444.4,494.5 444.6,494.8 444.9,495.2 445.1,495.5 445.3,495.9 445.5,496.2 445.7,496.6 445.9,497.0 446.0,497.3 446.2,497.7 446.4,498.0 446.6,498.4 446.8,498.8 447.0,499.1 447.2,499.5 447.3,499.8 447.5,500.2 447.7,500.6 447.9,500.9 448.0,501.3 448.2,501.7 448.4,502.0 448.5,502.4 448.7,502.8 448.9,503.1 449.0,503.5 449.2,503.9 449.3,504.2 449.5,504.6 449.6,504.9 449.8,505.3 449.9,505.7 450.0,506.0 450.2,506.4 450.3,506.8 450.5,507.1 450.6,507.5 450.7,507.9 450.8,508.2 451.0,508.6 451.1,509.0 451.2,509.3 451.3,509.7 451.4,510.1 451.5,510.4 451.6,510.8 451.7,511.2 451.8,511.5 451.9,511.9 452.0,512.3 452.1,512.6 452.2,513.0 452.3,513.3 452.4,513.7 452.5,514.1 452.6,514.4 452.7,514.8 452.7,515.1 452.8,515.5 452.9,515.8 452.9,516.2 453.0,516.6 453.1,516.9 453.1,517.3 453.2,517.6 453.2,518.0 453.3,518.3 453.3,518.7 453.4,519.0 453.4,519.4 453.5,519.7 453.5,520.1 453.6,520.4 453.6,520.7 453.6,521.1 453.7,521.4 453.7,521.8 453.7,522.1 453.7,522.4 453.7,522.8 453.8,523.1 453.8,523.4 453.8,523.8 453.8,524.1 453.8,524.4 453.8,524.8 453.8,525.1 453.8,525.4 453.8,525.7 453.8,526.1 453.8,526.4 453.7,526.7 453.7,527.0 453.7,527.3 453.7,527.7 453.7,528.0 453.6,528.3 453.6,528.6 453.6,528.9 453.5,529.2 453.5,529.5 453.4,529.8 453.4,530.1 453.3,530.4 453.3,530.7 453.2,531.0 453.2,531.3 453.1,531.6 453.1,531.9 453.0,532.2 452.9,532.5 452.9,532.7 452.8,533.0 452.7,533.3 452.7,533.6 452.6,533.8 452.5,534.1 452.4,534.4 452.3,534.7 452.2,534.9 452.1,535.2 452.0,535.5 451.9,535.7 451.8,536.0 451.7,536.2 451.6,536.5 451.5,536.7 451.4,537.0 451.3,537.2 451.2,537.5 451.1,537.7 451.0,537.9 450.8,538.2 450.7,538.4 450.6,538.6 450.5,538.9 450.3,539.1 450.2,539.3 450.0,539.5 449.9,539.8 449.8,540.0 449.6,540.2 449.5,540.4 449.3,540.6 449.2,540.8 449.0,541.0 448.9,541.2 448.7,541.4 448.5,541.6 448.4,541.8 448.2,542.0 448.0,542.2 447.9,542.4 447.7,542.6 447.5,542.7 447.3,542.9 447.2,543.1 447.0,543.3 446.8,543.4 446.6,543.6 446.4,543.7 446.2,543.9 446.0,544.1 445.9,544.2 445.7,544.4 445.5,544.5 445.3,544.7 445.1,544.8 444.9,544.9 444.6,545.1 444.4,545.2 444.2,545.3 444.0,545.5 443.8,545.6 439.4,548.0 439.2,548.1 439.0,548.3 438.8,548.4 438.5,548.5 438.3,548.6 Z" fill="#fff" stroke="#000" stroke-width="2.0" stroke-linejoin="round"/>
<path d="M439.0,548.3 L439.4,548.0 439.9,547.8 440.3,547.5 440.7,547.2 441.1,546.9 441.5,546.6 441.9,546.3 442.3,546.0 442.6,545.7 443.0,545.3 443.3,545.0 443.7,544.6 444.0,544.2 444.3,543.9 444.7,543.5 445.0,543.0 445.3,542.6 445.5,542.2 445.8,541.8 446.1,541.3 446.4,540.8 446.6,540.4 446.8,539.9 447.1,539.4 447.3,538.9 447.5,538.4 447.7,537.9 447.9,537.3 448.1,536.8 448.2,536.3 448.4,535.7 448.5,535.1 448.7,534.6 448.8,534.0 448.9,533.4 449.0,532.8 449.1,532.2 449.2,531.6 449.2,531.0 449.3,530.4 449.4,529.7 449.4,529.1 449.4,528.5 449.4,527.8 449.4,527.2 449.4,526.5 449.4,525.8 449.4,525.2 449.4,524.5 449.3,523.8 449.2,523.1 449.2,522.4 449.1,521.7 449.0,521.0 448.9,520.3 448.8,519.6 448.7,518.9 448.5,518.2 448.4,517.5 448.2,516.8 448.1,516.1 447.9,515.3 447.7,514.6 447.5,513.9 447.3,513.2 447.1,512.4 446.8,511.7 446.6,511.0 446.4,510.2 446.1,509.5 445.8,508.8 445.5,508.0 445.3,507.3 445.0,506.6 444.7,505.8 444.3,505.1 444.0,504.4 443.7,503.6 443.3,502.9 443.0,502.2 442.6,501.4 442.3,500.7 441.9,500.0 441.5,499.3 441.1,498.6 440.7,497.9 440.3,497.1 439.9,496.4 439.4,495.7 439.0,495.0 438.5,494.3 438.1,493.6 437.6,493.0 437.2,492.3 436.7,491.6 436.2,490.9 435.7,490.3 435.2,489.6 434.7,489.0 434.2,488.3 433.7,487.7 433.2,487.0 432.7,486.4 432.1,485.8 431.6,485.2 431.1,484.5 430.5,483.9 430.0,483.4 429.4,482.8 428.8,482.2 428.3,481.6 427.7,481.1 427.1,480.5 426.5,479.9 426.0,479.4 425.4,478.9 424.8,478.4 424.2,477.9 423.6,477.4 423.0,476.9 422.4,476.4 421.8,475.9 421.2,475.4 420.6,475.0 420.0,474.5 419.3,474.1 418.7,473.7 418.1,473.3 417.5,472.9 416.9,472.5 416.3,472.1 415.6,471.7 415.0,471.4 414.4,471.0 413.8,470.7 413.1,470.4 412.5,470.1 411.9,469.8 411.3,469.5 410.7,469.2 410.0,468.9 409.4,468.7 408.8,468.5 408.2,468.2 407.6,468.0 407.0,467.8 406.3,467.6 405.7,467.4 405.1,467.3 404.5,467.1 403.9,467.0 403.3,466.8 402.7,466.7 402.1,466.6 401.6,466.5 401.0,466.5 400.4,466.4 399.8,466.3 399.3,466.3 398.7,466.3 398.1,466.3 397.6,466.3 397.0,466.3 396.5,466.3 395.9,466.3 395.4,466.4 394.9,466.5 394.3,466.5 393.8,466.6 393.3,466.7 392.8,466.8 392.3,467.0 391.8,467.1 391.3,467.3 390.8,467.4 390.4,467.6 389.9,467.8 389.4,468.0 389.0,468.2 388.5,468.4 388.1,468.7 387.7,468.9 387.3,469.2 386.8,469.4 386.4,469.7 386.0,470.0 385.7,470.3 385.3,470.7 384.9,471.0 384.5,471.3 384.2,471.7 383.8,472.1 383.5,472.4 383.2,472.8 382.9,473.2 382.6,473.6 382.3,474.1 382.0,474.5 381.7,474.9 381.4,475.4 381.2,475.8 380.9,476.3 380.7,476.8 380.5,477.3 380.2,477.8 380.0,478.3 379.8,478.8 379.6,479.3 379.5,479.9 379.3,480.4 379.1,481.0 379.0,481.5 378.9,482.1 378.7,482.7 378.6,483.3 378.5,483.9 378.4,484.5 378.4,485.1 378.3,485.7 378.2,486.3 378.2,486.9 378.1,487.6 378.1,488.2 378.1,488.9 378.1,489.5 378.1,490.2 378.1,490.8 378.1,491.5 378.2,492.2 378.2,492.9 378.3,493.6 378.4,494.3 378.4,494.9 378.5,495.6 378.6,496.3 378.7,497.1 378.9,497.8 379.0,498.5 379.1,499.2 379.3,499.9 379.5,500.6 379.6,501.3 379.8,502.1 380.0,502.8 380.2,503.5 380.5,504.3 380.7,505.0 380.9,505.7 381.2,506.5 381.4,507.2 381.7,507.9 382.0,508.7 382.3,509.4 382.6,510.1 382.9,510.9 383.2,511.6 383.5,512.3 383.8,513.1 384.2,513.8 384.5,514.5 384.9,515.2 385.3,516.0 385.7,516.7 386.0,517.4 386.4,518.1 386.8,518.8 387.3,519.5 387.7,520.2 388.1,520.9 388.5,521.6 389.0,522.3 389.4,523.0 389.9,523.7 390.4,524.4 390.8,525.1 391.3,525.7 391.8,526.4 392.3,527.1 392.8,527.7 393.3,528.4 393.8,529.0 394.3,529.7 394.9,530.3 395.4,530.9 395.9,531.5 396.5,532.1 397.0,532.7 397.6,533.3 398.1,533.9 398.7,534.5 399.3,535.1 399.8,535.6 400.4,536.2 401.0,536.7 401.6,537.3 402.1,537.8 402.7,538.3 403.3,538.8 403.9,539.3 404.5,539.8 405.1,540.3 405.7,540.8 406.3,541.2 407.0,541.7 407.6,542.1 408.2,542.6 408.8,543.0 409.4,543.4 410.0,543.8 410.7,544.2 411.3,544.6 411.9,544.9 412.5,545.3 413.1,545.6 413.8,546.0 414.4,546.3 415.0,546.6 415.6,546.9 416.3,547.2 416.9,547.5 417.5,547.7 418.1,548.0 418.7,548.2 419.3,548.5 420.0,548.7 420.6,548.9 421.2,549.1 421.8,549.2 422.4,549.4 423.0,549.6 423.6,549.7 424.2,549.8 424.8,549.9 425.4,550.1 426.0,550.1 426.5,550.2 427.1,550.3 427.7,550.3 428.3,550.4 428.8,550.4 429.4,550.4 430.0,550.4 430.5,550.4 431.1,550.4 431.6,550.3 432.1,550.3 432.7,550.2 433.2,550.2 433.7,550.1 434.2,550.0 434.7,549.8 435.2,549.7 435.7,549.6 436.2,549.4 436.7,549.3 437.2,549.1 437.6,548.9 438.1,548.7 438.5,548.5 Z" fill="#fff" stroke="#000" stroke-width="2.0"/>
<path d="M399.7,493.1 L413.8,491.6 427.5,507.5 427.9,524.1 413.5,525.7 399.7,510.0 Z" fill="#fff" stroke="#000" stroke-width="2.0" stroke-linejoin="round"/>
<path d="M408.8,492.2 L408.8,505.3 M399.7,510.0 L408.8,505.3 L423.2,520.7 L427.9,520.7 M423.2,520.7 L413.5,525.7" fill="none" stroke="#000" stroke-width="2.0" stroke-linejoin="round"/>
<path d="M671.0,186.5 L892.2,70.3" fill="none" stroke="#a4a4a4" stroke-width="1.0"/>
<path d="M843.9,466.3 L1066.0,350.2" fill="none" stroke="#a4a4a4" stroke-width="1.0"/>
<path d="M882.5,75.3 L914.3,126.6" fill="none" stroke="#a4a4a4" stroke-width="1.0"/>
<path d="M949.3,182.6 L1056.3,355.1" fill="none" stroke="#a4a4a4" stroke-width="1.0"/>
<path d="M882.5,75.3 L888.9,91.6 L894.3,88.3 Z" fill="#000"/>
<path d="M1056.3,355.1 L1050.0,338.8 L1044.6,342.1 Z" fill="#000"/>
<path d="M653.2,300.2 L861.9,194.1" fill="none" stroke="#a4a4a4" stroke-width="1.0"/>
<path d="M727.8,421.0 L936.1,314.3" fill="none" stroke="#a4a4a4" stroke-width="1.0"/>
<path d="M852.9,198.8 L872.3,230.7" fill="none" stroke="#a4a4a4" stroke-width="1.0"/>
<path d="M907.0,287.1 L926.2,319.0" fill="none" stroke="#a4a4a4" stroke-width="1.0"/>
<path d="M852.9,198.8 L859.1,215.1 L864.5,211.9 Z" fill="#000"/>
<path d="M926.2,319.0 L920.0,302.6 L914.6,305.9 Z" fill="#000"/>
<path d="M346.3,412.3 L220.0,477.3" fill="none" stroke="#a4a4a4" stroke-width="1.0"/>
<path d="M469.7,611.6 L341.0,679.0" fill="none" stroke="#a4a4a4" stroke-width="1.0"/>
<path d="M225.8,474.4 L271.9,546.4" fill="none" stroke="#a4a4a4" stroke-width="1.0"/>
<path d="M306.4,602.6 L349.6,674.6" fill="none" stroke="#a4a4a4" stroke-width="1.0"/>
<path d="M225.8,474.4 L232.4,490.6 L237.7,487.2 Z" fill="#000"/>
<path d="M349.6,674.6 L343.5,658.2 L338.0,661.5 Z" fill="#000"/>
<path d="M305.8,327.8 L351.0,399.0" fill="none" stroke="#a4a4a4" stroke-width="1.0"/>
<path d="M341.1,308.8 L386.6,381.0" fill="none" stroke="#a4a4a4" stroke-width="1.0"/>
<path d="M251.0,352.4 L281.8,352.4 L376.4,301.8" fill="none" stroke="#a4a4a4" stroke-width="1.0"/>
<path d="M311.1,336.8 L294.4,342.1 L297.4,347.7 Z" fill="#000"/>
<path d="M347.1,316.8 L363.8,311.8 L361.0,306.2 Z" fill="#000"/>
<path d="M454.4,248.8 L499.6,321.0" fill="none" stroke="#a4a4a4" stroke-width="1.0"/>
<path d="M491.9,229.3 L537.4,301.7" fill="none" stroke="#a4a4a4" stroke-width="1.0"/>
<path d="M399.2,273.3 L431.1,273.3 L528.0,221.8" fill="none" stroke="#a4a4a4" stroke-width="1.0"/>
<path d="M460.4,257.8 L443.7,263.1 L446.7,268.6 Z" fill="#000"/>
<path d="M497.9,237.6 L514.6,232.4 L511.7,226.8 Z" fill="#000"/>
<path d="M580.1,181.8 L601.1,214.9" fill="none" stroke="#a4a4a4" stroke-width="1.0"/>
<path d="M633.4,154.0 L654.5,186.3" fill="none" stroke="#a4a4a4" stroke-width="1.0"/>
<path d="M540.3,199.4 L571.1,199.4 L639.4,163.1" fill="none" stroke="#a4a4a4" stroke-width="1.0"/>
<path d="M586.1,190.8 L602.8,185.7 L599.9,180.1 Z" fill="#000"/>
<path d="M639.4,163.1 L622.7,168.2 L625.6,173.8 Z" fill="#000"/>
<path d="M521.0,594.1 L559.0,655.2" fill="none" stroke="#a4a4a4" stroke-width="1.0"/>
<path d="M633.1,535.0 L672.2,597.1" fill="none" stroke="#a4a4a4" stroke-width="1.0"/>
<path d="M555.0,648.1 L591.1,629.1" fill="none" stroke="#a4a4a4" stroke-width="1.0"/>
<path d="M630.1,608.1 L667.2,590.1" fill="none" stroke="#a4a4a4" stroke-width="1.0"/>
<path d="M555.0,648.1 L571.7,642.9 L568.8,637.3 Z" fill="#000"/>
<path d="M667.2,590.1 L650.4,594.8 L653.1,600.4 Z" fill="#000"/>
<path d="M671.0,514.1 L710.0,577.1" fill="none" stroke="#a4a4a4" stroke-width="1.0"/>
<path d="M724.1,430.0 L790.1,534.1" fill="none" stroke="#a4a4a4" stroke-width="1.0"/>
<path d="M675.0,584.2 L725.1,557.1" fill="none" stroke="#a4a4a4" stroke-width="1.0"/>
<path d="M765.1,537.1 L815.2,510.1" fill="none" stroke="#a4a4a4" stroke-width="1.0"/>
<path d="M705.0,568.1 L688.4,573.5 L691.3,579.0 Z" fill="#000"/>
<path d="M785.1,526.1 L801.8,520.8 L798.8,515.2 Z" fill="#000"/>
<path d="M371.1,563.0 L505.9,764.9" fill="none" stroke="#a4a4a4" stroke-width="1.0"/>
<path d="M847.0,304.7 L976.7,500.5" fill="none" stroke="#a4a4a4" stroke-width="1.0"/>
<path d="M500.3,756.5 L710.2,639.6" fill="none" stroke="#a4a4a4" stroke-width="1.0"/>
<path d="M781.2,598.6 L971.2,491.7" fill="none" stroke="#a4a4a4" stroke-width="1.0"/>
<path d="M500.3,756.5 L516.9,750.9 L513.8,745.4 Z" fill="#000"/>
<path d="M971.2,491.7 L954.7,497.4 L957.8,502.9 Z" fill="#000"/>
<path d="M245.9,561.5 L260.3,561.5 L267.6,568.2 L267.6,581.5 L260.6,588.3 L245.6,588.3 L238.6,581.5 L238.6,568.2 Z" fill="none" stroke="#b4b4b4" stroke-width="1"/>
<path d="M263.7,555.0 L242.3,594.7" fill="none" stroke="#a4a4a4" stroke-width="1"/>
<path d="M888.7,141.4 L903.1,141.4 L910.4,148.2 L910.4,161.4 L903.4,168.2 L888.4,168.2 L881.4,161.4 L881.4,148.2 Z" fill="none" stroke="#b4b4b4" stroke-width="1"/>
<path d="M906.5,134.9 L885.1,174.7" fill="none" stroke="#a4a4a4" stroke-width="1"/>
<path d="M851.9,245.5 L866.3,245.5 L873.6,252.2 L873.6,265.5 L866.6,272.3 L851.6,272.3 L844.6,265.5 L844.6,252.2 Z" fill="none" stroke="#b4b4b4" stroke-width="1"/>
<path d="M869.7,239.0 L848.3,278.7" fill="none" stroke="#a4a4a4" stroke-width="1"/>
<path transform="translate(542.5,152.8)" d="M13.2,0 C5,3 0,9 0,17.5 V27.5 A8.45 8.45 0 0 0 16.9,27.5 V24.5 A8.45 8.45 0 0 0 8.45,16 H0" fill="none" stroke="#000" stroke-width="3.8" stroke-linecap="round" stroke-linejoin="round"/>
<path transform="translate(252.5,306.9)" d="M16.9,0 H1 V16 H10 A8.2 8.2 0 0 1 18.2,24.2 V27.8 A8.2 8.2 0 0 1 10,36 H0" fill="none" stroke="#000" stroke-width="3.8" stroke-linecap="round" stroke-linejoin="round"/>
<path transform="translate(400.7,228.2)" d="M16.9,0 H1 V16 H10 A8.2 8.2 0 0 1 18.2,24.2 V27.8 A8.2 8.2 0 0 1 10,36 H0" fill="none" stroke="#000" stroke-width="3.8" stroke-linecap="round" stroke-linejoin="round"/>
<path transform="translate(930.9,136.9)" d="M0,6.2 C2,2.2 5.2,0 9,0 C14,0 17.8,3.8 17.8,8.8 C17.8,11 17,12.7 15.8,14.4 L0,36 H18.5" fill="none" stroke="#000" stroke-width="3.8" stroke-linecap="round" stroke-linejoin="round"/>
<path transform="translate(962.2,136.9)" d="M8.95,0 A8.65 7.95 0 1 0 8.95,15.9 A8.65 7.95 0 1 0 8.95,0 Z M8.95,15.9 C4,15.9 0.2,19.5 0.2,24.5 V27 C0.2,32 4,36 9,36 C14,36 17.8,32 17.8,27 V24.5 C17.8,19.5 14,15.9 9,15.9 Z" fill="none" stroke="#000" stroke-width="3.8" stroke-linecap="round" stroke-linejoin="round"/>
<path transform="translate(893.6,240.6)" d="M0,8.3 L9.4,0 V36" fill="none" stroke="#000" stroke-width="3.8" stroke-linecap="round" stroke-linejoin="round"/>
<path transform="translate(915.2,240.6)" d="M0,6.2 C2,2.2 5.2,0 9,0 C14,0 17.8,3.8 17.8,8.8 C17.8,11 17,12.7 15.8,14.4 L0,36 H18.5" fill="none" stroke="#000" stroke-width="3.8" stroke-linecap="round" stroke-linejoin="round"/>
<path transform="translate(287.8,556.9)" d="M0,6.2 C2,2.2 5.2,0 9,0 C14,0 17.8,3.8 17.8,8.8 C17.8,11 17,12.7 15.8,14.4 L0,36 H18.5" fill="none" stroke="#000" stroke-width="3.8" stroke-linecap="round" stroke-linejoin="round"/>
<path transform="translate(319.1,556.9)" d="M9.1,0 A9.1 18 0 1 0 9.1,36 A9.1 18 0 1 0 9.1,0 Z" fill="none" stroke="#000" stroke-width="3.8" stroke-linecap="round" stroke-linejoin="round"/>
<path transform="translate(601.9,600.9)" d="M0,0 H18.1 L9.1,36.4 M8.8,17.9 H18.1" fill="none" stroke="#000" stroke-width="3.8" stroke-linecap="round" stroke-linejoin="round"/>
<path transform="translate(721.8,599.9)" d="M0,0 H9.8 A9 8.1 0 0 1 9.8,16.2 H3.7 M9.8,16.2 A9 9.9 0 0 1 9.8,36 H0" fill="none" stroke="#000" stroke-width="3.8" stroke-linecap="round" stroke-linejoin="round"/>
<path transform="translate(753.3,599.9)" d="M0,6.2 C2,2.2 5.2,0 9,0 C14,0 17.8,3.8 17.8,8.8 C17.8,11 17,12.7 15.8,14.4 L0,36 H18.5" fill="none" stroke="#000" stroke-width="3.8" stroke-linecap="round" stroke-linejoin="round"/>
<path transform="translate(736.3,529.0)" d="M13.2,0 C5,3 0,9 0,17.5 V27.5 A8.45 8.45 0 0 0 16.9,27.5 V24.5 A8.45 8.45 0 0 0 8.45,16 H0" fill="none" stroke="#000" stroke-width="3.8" stroke-linecap="round" stroke-linejoin="round"/>
</svg>
</body></html>
